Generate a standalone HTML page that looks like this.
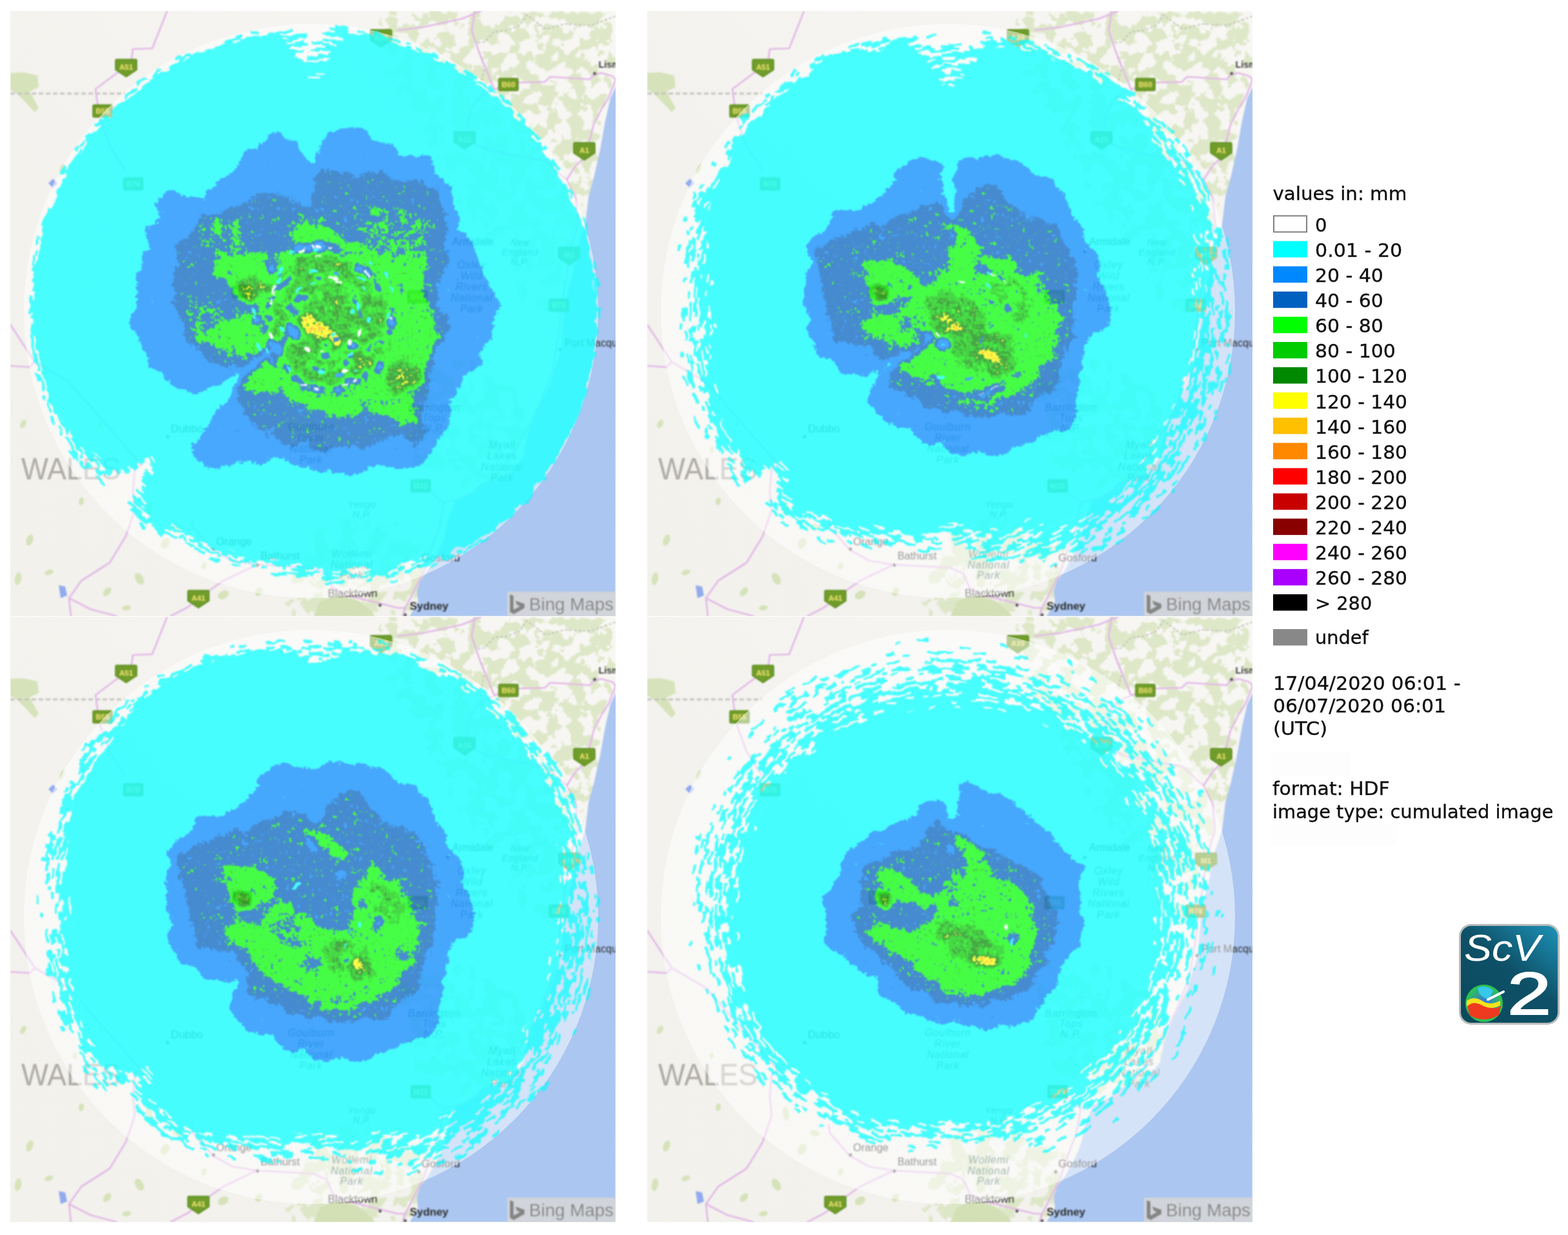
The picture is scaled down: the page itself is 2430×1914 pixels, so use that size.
<!DOCTYPE html>
<html lang="en"><head><meta charset="utf-8"><title>cumulated image</title>
<style>
html,body{margin:0;padding:0;background:#fff}
body{width:2430px;height:1914px;overflow:hidden;position:relative}
svg{display:block}
.lg{font-family:"DejaVu Sans","Liberation Sans",sans-serif;font-size:29px;fill:#111}
.mp{font-family:"Liberation Sans",sans-serif}
</style></head>
<body>
<svg width="2430" height="1914" viewBox="0 0 2430 1914">
<defs>
<filter id="bl" x="-5%" y="-5%" width="110%" height="110%"><feGaussianBlur stdDeviation="1.1"/></filter>
<filter id="bl2" x="-5%" y="-5%" width="110%" height="110%"><feGaussianBlur stdDeviation="1.15"/></filter>
<filter id="veg" filterUnits="userSpaceOnUse" x="0" y="0" width="938" height="938" color-interpolation-filters="sRGB"><feGaussianBlur in="SourceGraphic" stdDeviation="14" result="g"/><feTurbulence type="fractalNoise" baseFrequency="0.045" numOctaves="3" seed="8" result="t"/><feColorMatrix in="t" type="matrix" values="0 0 0 0 0  0 0 0 0 0  0 0 0 0 0  2.2 0 0 0 -0.85" result="m0"/><feComposite in="m0" in2="g" operator="arithmetic" k1="3.2" k2="0" k3="0" k4="0" result="m1"/><feComponentTransfer in="m1" result="m"><feFuncA type="discrete" tableValues="0 0 0 0 0 0 0 0.3 0.65 0.75"/></feComponentTransfer><feFlood flood-color="#d6e3ba"/><feComposite in2="m" operator="in"/><feGaussianBlur stdDeviation="1.2"/></filter>
<linearGradient id="lg0" x1="0" y1="1" x2="1" y2="0"><stop offset="0" stop-color="#f2f1ec"/><stop offset="0.45" stop-color="#f3f2ee"/><stop offset="1" stop-color="#f8f7f4"/></linearGradient>
<g id="base">
<rect width="938" height="938" fill="url(#lg0)"/>
<g filter="url(#veg)" fill="#000"><path d="M560,0 938,0 938,100 925,170 915,215 900,260 890,330 875,370 865,420 855,460 800,460 760,380 700,300 640,200 590,100Z"/><path d="M430,938 440,860 480,800 560,780 620,800 650,850 640,900 620,938Z"/><path d="M600,560 700,540 800,600 820,640 780,720 700,740 620,700Z"/></g>
<g filter="url(#bl)">
<path d="M0,96 20,95 42,100 44,118 30,125 44,150 38,157 22,140 10,128 0,122Z" fill="#d6e3ba"/><path d="M470,938 480,915 505,905 540,915 560,930 565,938Z" fill="#d3e0b6"/><g fill="#d6e3ba"><ellipse cx="30" cy="820" rx="5" ry="9" transform="rotate(20 30 820)"/><ellipse cx="60" cy="870" rx="4" ry="7" transform="rotate(70 60 870)"/><ellipse cx="110" cy="760" rx="4" ry="6" transform="rotate(10 110 760)"/><ellipse cx="150" cy="900" rx="5" ry="8" transform="rotate(40 150 900)"/><ellipse cx="200" cy="880" rx="6" ry="10" transform="rotate(150 200 880)"/><ellipse cx="215" cy="770" rx="5" ry="11" transform="rotate(170 215 770)"/><ellipse cx="240" cy="825" rx="6" ry="9" transform="rotate(30 240 825)"/><ellipse cx="330" cy="905" rx="6" ry="9" transform="rotate(60 330 905)"/><ellipse cx="300" cy="860" rx="4" ry="6" transform="rotate(20 300 860)"/><ellipse cx="20" cy="640" rx="4" ry="7" transform="rotate(30 20 640)"/><ellipse cx="80" cy="245" rx="3" ry="8" transform="rotate(20 80 245)"/><ellipse cx="12" cy="880" rx="5" ry="10" transform="rotate(10 12 880)"/><ellipse cx="180" cy="925" rx="4" ry="7" transform="rotate(80 180 925)"/><ellipse cx="260" cy="800" rx="5" ry="8" transform="rotate(100 260 800)"/><ellipse cx="385" cy="900" rx="5" ry="7" transform="rotate(30 385 900)"/><ellipse cx="100" cy="680" rx="3" ry="5" transform="rotate(0 100 680)"/><ellipse cx="140" cy="640" rx="3" ry="4" transform="rotate(0 140 640)"/></g>
<path d="M940,114 930,135 922,170 914,215 905,255 896,288 891,330 879,366 870,412 859,454 853,525 836,580 814,624 800,662 795,690 773,717 731,731 717,745 690,759 679,786 673,814 668,828 657,850 646,869 635,883 630,899 632,916 619,938 938,938Z" fill="#abc6f0"/>
<path d="M0,128 L179,128" stroke="#c4c4c0" stroke-width="3" stroke-dasharray="7 4" fill="none"/>
<path d="M938,8 900,22 860,20 830,28 800,6 790,22 770,30 750,32 735,48 722,50 728,70 735,88 730,110" stroke="#b9b9b4" stroke-width="1.6" stroke-dasharray="4 3" fill="none"/>
<g stroke="#e3b9e7" stroke-width="2.7" fill="none" stroke-linejoin="round">
<path d="M243,0 220,58 190,59 187,80 132,121 138,165 154,209 179,248"/><path d="M0,486 38,544 91,575 204,704"/><path d="M0,550 30,552 38,544"/><path d="M204,704 193,707 190,745 193,773 179,814 154,855 110,883 91,910 94,938"/><path d="M281,786 283,800 314,835 344,852 382,858 470,863 490,872 500,895 520,905"/><path d="M382,858 330,883 303,902 275,924 248,938"/><path d="M91,910 124,927 165,938"/><path d="M939,107 933,101 916,96 904,99 898,106 869,104 837,102 828,110 788,111 760,118 740,126 722,138 712,160 704,199"/><path d="M939,105 927,135 916,152 904,176 898,200 892,225 876,240 862,262 876,290 880,330 868,370 862,410 855,455 850,500 840,560 820,610 800,650"/><path d="M750,122 725,60 715,30 720,0"/><path d="M704,199 740,215 790,225 830,232 862,262"/><path d="M600,30 640,25 700,12 730,0"/><path d="M800,650 770,700 740,735 700,755 672,762 665,800 650,840 640,870 625,900 612,925 608,938"/><path d="M672,762 650,745 636,736"/><path d="M520,905 560,915 600,925 612,925"/>
</g>
<path d="M59,267 l7,-7 l7,7 l-7,7z M75,890 l10,2 l3,14 l-10,4z" fill="#93abee"/>
</g>
<g class="mp" filter="url(#bl2)">
<text x="17" y="726" font-size="49" fill="#aeaaa6" textLength="154" lengthAdjust="spacingAndGlyphs">WALES</text>
<text x="249" y="653" font-size="16.5" fill="#2e2e2e" font-weight="normal" textLength="49.6" lengthAdjust="spacingAndGlyphs">Dubbo</text>
<text x="319" y="828" font-size="16.5" fill="#2e2e2e" font-weight="normal" textLength="55" lengthAdjust="spacingAndGlyphs">Orange</text>
<text x="388" y="850" font-size="16.5" fill="#2e2e2e" font-weight="normal" textLength="60.5" lengthAdjust="spacingAndGlyphs">Bathurst</text>
<text x="492" y="908" font-size="16.5" fill="#2e2e2e" font-weight="normal" textLength="77" lengthAdjust="spacingAndGlyphs">Blacktown</text>
<text x="619" y="928" font-size="17" fill="#2c2c2c" font-weight="bold" textLength="60" lengthAdjust="spacingAndGlyphs">Sydney</text>
<text x="637" y="853" font-size="16.5" fill="#2e2e2e" font-weight="normal" textLength="60" lengthAdjust="spacingAndGlyphs">Gosford</text>
<text x="685" y="363" font-size="16.5" fill="#2e2e2e" font-weight="normal" textLength="63.4" lengthAdjust="spacingAndGlyphs">Armidale</text>
<text x="859" y="520" font-size="16" fill="#2e2e2e" font-weight="normal" textLength="108.5" lengthAdjust="spacingAndGlyphs">Port Macquarie</text>
<text x="911.5" y="88" font-size="15" fill="#3c3c3c" font-weight="bold" textLength="56" lengthAdjust="spacingAndGlyphs">Lismore</text>
<g fill="#466a60" font-style="italic" text-anchor="middle" letter-spacing="0.8">
<text x="715" y="399" font-size="16">Oxley</text><text x="715" y="416" font-size="16">Wild</text><text x="715" y="433" font-size="16">Rivers</text><text x="715" y="450" font-size="16">National</text><text x="715" y="467" font-size="16">Park</text>
<text x="790" y="364" font-size="14">New</text><text x="790" y="379" font-size="14">England</text><text x="790" y="394" font-size="14">N.P.</text>
<text x="657" y="620" font-size="16">Barrington</text><text x="657" y="636.2" font-size="16">Tops</text><text x="657" y="652.4" font-size="16">N.P.</text>
<text x="466" y="650" font-size="16">Goulburn</text><text x="466" y="667" font-size="16">River</text><text x="466" y="684" font-size="16">National</text><text x="466" y="701" font-size="16">Park</text>
<text x="762" y="678" font-size="16">Myall</text><text x="762" y="695" font-size="16">Lakes</text><text x="762" y="712" font-size="16">National</text><text x="762" y="729" font-size="16">Park</text>
<text x="529" y="847" font-size="16">Wollemi</text><text x="529" y="863.5" font-size="16">National</text><text x="529" y="880" font-size="16">Park</text>
<text x="545" y="770" font-size="14">Yengo</text><text x="545" y="785" font-size="14">N.P.</text>
</g>
<circle cx="244" cy="660" r="2.4" fill="#5a5a5a"/><circle cx="315" cy="834" r="2.4" fill="#5a5a5a"/><circle cx="383" cy="859" r="2.4" fill="#5a5a5a"/><circle cx="573" cy="921" r="2.4" fill="#5a5a5a"/><circle cx="633" cy="860" r="2.4" fill="#5a5a5a"/><circle cx="678" cy="373" r="2.4" fill="#5a5a5a"/><circle cx="852" cy="525" r="2.4" fill="#5a5a5a"/><circle cx="905.6" cy="97" r="2.4" fill="#5a5a5a"/><circle cx="612" cy="936" r="2.4" fill="#5a5a5a"/>
<g transform="translate(179.5,88)"><path d="M-14.5,-13 h29 a2,2 0 0 1 2,2 v14 l-16.5,11 l-16.5,-11 v-14 a2,2 0 0 1 2,-2z" fill="#6f9d2b" stroke="#5b8a1e" stroke-width="1.5"/><text x="0" y="3" font-size="11.5" font-weight="bold" fill="#e8e06a" text-anchor="middle">A51</text></g>
<g transform="translate(143,155)"><rect x="-15" y="-9.5" width="30" height="19" rx="2" fill="#6f9d2b" stroke="#5b8a1e" stroke-width="1.5"/><text x="0" y="4" font-size="11.5" font-weight="bold" fill="#e8e06a" text-anchor="middle">B55</text></g>
<g transform="translate(190.5,268)"><rect x="-15" y="-9.5" width="30" height="19" rx="2" fill="#6f9d2b" stroke="#5b8a1e" stroke-width="1.5"/><text x="0" y="4" font-size="11.5" font-weight="bold" fill="#e8e06a" text-anchor="middle">B76</text></g>
<g transform="translate(574.5,42)"><path d="M-14.5,-13 h29 a2,2 0 0 1 2,2 v14 l-16.5,11 l-16.5,-11 v-14 a2,2 0 0 1 2,-2z" fill="#6f9d2b" stroke="#5b8a1e" stroke-width="1.5"/><text x="0" y="3" font-size="11.5" font-weight="bold" fill="#e8e06a" text-anchor="middle">A39</text></g>
<g transform="translate(772,114)"><rect x="-15" y="-9.5" width="30" height="19" rx="2" fill="#6f9d2b" stroke="#5b8a1e" stroke-width="1.5"/><text x="0" y="4" font-size="11.5" font-weight="bold" fill="#e8e06a" text-anchor="middle">B60</text></g>
<g transform="translate(704,200)"><path d="M-14.5,-13 h29 a2,2 0 0 1 2,2 v14 l-16.5,11 l-16.5,-11 v-14 a2,2 0 0 1 2,-2z" fill="#6f9d2b" stroke="#5b8a1e" stroke-width="1.5"/><text x="0" y="3" font-size="11.5" font-weight="bold" fill="#e8e06a" text-anchor="middle">A15</text></g>
<g transform="translate(889.5,217)"><path d="M-14.5,-13 h29 a2,2 0 0 1 2,2 v14 l-16.5,11 l-16.5,-11 v-14 a2,2 0 0 1 2,-2z" fill="#6f9d2b" stroke="#5b8a1e" stroke-width="1.5"/><text x="0" y="3" font-size="11.5" font-weight="bold" fill="#e8e06a" text-anchor="middle">A1</text></g>
<g transform="translate(866,379)"><path d="M-14.5,-13 h29 a2,2 0 0 1 2,2 v14 l-16.5,11 l-16.5,-11 v-14 a2,2 0 0 1 2,-2z" fill="#6f9d2b" stroke="#5b8a1e" stroke-width="1.5"/><text x="0" y="3" font-size="11.5" font-weight="bold" fill="#e8e06a" text-anchor="middle">M1</text></g>
<g transform="translate(631,443)"><rect x="-15" y="-9.5" width="30" height="19" rx="2" fill="#6f9d2b" stroke="#5b8a1e" stroke-width="1.5"/><text x="0" y="4" font-size="11.5" font-weight="bold" fill="#e8e06a" text-anchor="middle">B56</text></g>
<g transform="translate(359,435)"><rect x="-15" y="-9.5" width="30" height="19" rx="2" fill="#6f9d2b" stroke="#5b8a1e" stroke-width="1.5"/><text x="0" y="4" font-size="11.5" font-weight="bold" fill="#e8e06a" text-anchor="middle">B84</text></g>
<g transform="translate(850,456)"><rect x="-15" y="-9.5" width="30" height="19" rx="2" fill="#6f9d2b" stroke="#5b8a1e" stroke-width="1.5"/><text x="0" y="4" font-size="11.5" font-weight="bold" fill="#e8e06a" text-anchor="middle">B78</text></g>
<g transform="translate(636,736)"><rect x="-15" y="-9.5" width="30" height="19" rx="2" fill="#6f9d2b" stroke="#5b8a1e" stroke-width="1.5"/><text x="0" y="4" font-size="11.5" font-weight="bold" fill="#e8e06a" text-anchor="middle">M15</text></g>
<g transform="translate(291.5,911)"><path d="M-14.5,-13 h29 a2,2 0 0 1 2,2 v14 l-16.5,11 l-16.5,-11 v-14 a2,2 0 0 1 2,-2z" fill="#6f9d2b" stroke="#5b8a1e" stroke-width="1.5"/><text x="0" y="3" font-size="11.5" font-weight="bold" fill="#e8e06a" text-anchor="middle">A41</text></g>
</g>
</g>
<g id="bing" filter="url(#bl2)">
<rect x="770" y="900" width="170" height="40" fill="#d6d6d6" fill-opacity="0.88"/>
<path d="M774,904 l6,2.2 v21.5 l9.5,-5.2 l-4.5,-2.2 l-2.6,-6.6 l14.6,5.1 v6.6 l-16.8,9.6 l-6.2,-3.6z" fill="#858585"/>
<text class="mp" x="804" y="929" font-size="27" fill="#858585" textLength="131" lengthAdjust="spacingAndGlyphs">Bing Maps</text>
</g>
<filter id="rag" filterUnits="userSpaceOnUse" x="0" y="0" width="938" height="938" color-interpolation-filters="sRGB">
<feTurbulence type="fractalNoise" baseFrequency="0.07" numOctaves="2" seed="3" result="n"/>
<feDisplacementMap in="SourceGraphic" in2="n" scale="9" xChannelSelector="R" yChannelSelector="G"/>
<feGaussianBlur stdDeviation="0.9"/>
</filter>
<filter id="lev" filterUnits="userSpaceOnUse" x="140" y="130" width="670" height="640" color-interpolation-filters="sRGB">
<feTurbulence type="fractalNoise" baseFrequency="0.032" numOctaves="3" seed="5" result="d0"/>
<feDisplacementMap in="SourceGraphic" in2="d0" scale="24" xChannelSelector="R" yChannelSelector="G" result="d"/>
<feGaussianBlur in="d" stdDeviation="4" result="b"/>
<feTurbulence type="fractalNoise" baseFrequency="0.07" numOctaves="4" seed="11" result="n0"/>
<feTurbulence type="fractalNoise" baseFrequency="0.22" numOctaves="2" seed="23" result="n1"/>
<feComposite in="n0" in2="n1" operator="arithmetic" k1="0" k2="0.5" k3="0.5" k4="0" result="n01"/>
<feColorMatrix in="n01" type="matrix" values="1 0 0 0 0  1 0 0 0 0  1 0 0 0 0  0 0 0 0 1" result="n"/>
<feComposite in="b" in2="n" operator="arithmetic" k1="0" k2="1" k3="0.36" k4="-0.18" result="v"/>
<feComponentTransfer in="v" result="c"><feFuncR type="discrete" tableValues="0 0 0 0 0 0 0 0 0 0 0 0 0 0 0 0 0 0 0 0 0 0 0 0 0 0 0 0 0 0 0 0 0 0 0 0 1 1 1 1 1 1 1 1 1 1 1 1"/><feFuncG type="discrete" tableValues="0 0 0 0 0 0 0 0 0.53 0.53 0.53 0.53 0.53 0.53 0.53 0.53 0.53 0.53 0.38 0.38 0.38 0.38 0.38 0.38 1 1 1 1 1 1 0.8 0.8 0.8 0.53 0.53 0.53 1 1 1 0.75 0.75 0.75 0.53 0.53 0.53 0 0 0"/><feFuncB type="discrete" tableValues="0 0 0 0 0 0 0 0 1 1 1 1 1 1 1 1 1 1 0.75 0.75 0.75 0.75 0.75 0.75 0 0 0 0 0 0 0 0 0 0 0 0 0 0 0 0 0 0 0 0 0 0 0 0"/></feComponentTransfer>
<feColorMatrix in="v" type="matrix" values="0 0 0 0 0  0 0 0 0 0  0 0 0 0 0  1 0 0 0 0" result="a0"/>
<feComponentTransfer in="a0" result="a"><feFuncA type="discrete" tableValues="0 0 0 0 0 0 0 0 1 1 1 1 1 1 1 1 1 1 1 1 1 1 1 1 1 1 1 1 1 1 1 1 1 1 1 1 1 1 1 1 1 1 1 1 1 1 1 1"/></feComponentTransfer>
<feComposite in="c" in2="a" operator="in"/>
<feGaussianBlur stdDeviation="0.9"/>
</filter>
<filter id="lgb" x="-2%" y="-2%" width="104%" height="104%"><feGaussianBlur stdDeviation="0.6"/></filter>
</defs>
<rect width="2430" height="1914" fill="#fff"/>
<svg x="16" y="17" width="938" height="938" viewBox="0 0 938 938" overflow="hidden">
<use href="#base"/>
<circle cx="466" cy="465" r="445" fill="#fff" fill-opacity="0.5"/>
<g opacity="0.72">
<g fill="#0ff" filter="url(#rag)">
<path d="M906,466 907,481 907,497 906,512 904,527 901,542 899,557 895,572 890,586 887,601 880,615 878,631 873,645 864,658 857,672 851,686 841,698 833,711 824,723 815,735 806,748 796,760 783,769 774,781 762,790 751,801 739,810 725,817 713,827 699,832 684,836 669,841 655,844 639,846 624,848 611,854 598,859 582,858 568,860 554,860 540,861 525,857 511,859 498,862 484,861 470,860 456,859 443,856 429,853 416,852 402,849 389,846 375,845 363,840 349,837 336,834 323,830 310,826 298,819 286,812 273,808 261,801 250,792 239,784 228,775 218,766 207,758 214,731 230,698 221,690 185,705 156,711 147,701 138,690 126,681 111,673 101,662 92,650 84,638 78,624 72,611 66,597 62,583 58,569 53,555 49,540 44,526 40,511 40,496 38,481 35,466 38,451 37,436 38,421 40,406 42,391 45,376 47,361 52,346 54,331 58,316 66,303 71,289 77,275 85,261 92,248 98,234 108,222 117,210 123,195 135,185 144,173 155,162 166,151 177,140 189,131 200,120 213,112 225,103 238,95 251,86 263,77 278,72 291,64 306,61 321,57 335,51 351,49 365,43 380,42 395,40 410,38 426,48 442,73 457,100 470,114 483,103 497,76 514,49 530,38 545,39 560,42 575,44 590,49 604,55 618,58 632,65 646,70 659,78 674,82 686,93 700,98 712,107 725,115 736,126 749,133 759,145 772,154 782,164 792,176 801,188 811,199 821,211 829,224 837,237 847,248 853,262 859,276 867,289 873,303 877,318 884,331 889,346 891,361 896,376 901,390 903,405 903,420 905,436 907,451Z"/>
<g transform="translate(470,466)" fill="none" stroke="#0ff" stroke-width="4.1">
<circle r="320" stroke-dasharray="488 13 170 12 245 11 176 16 880 0"/>
<circle r="323.5" stroke-dasharray="95 9 512 18 1398 0"/>
<circle r="327" stroke-dasharray="1344 18 28 18 148 7 62 12 418 0"/>
<circle r="330.5" stroke-dasharray="13 18 1096 5 944 0"/>
<circle r="334" stroke-dasharray="61 15 339 9 603 17 1055 0"/>
<circle r="337.5" stroke-dasharray="161 24 620 16 223 13 10 17 24 13 426 16 59 16 232 11 240 0"/>
<circle r="341" stroke-dasharray="399 11 608 8 281 15 775 20 22 4"/>
<circle r="344.5" stroke-dasharray="824 20 60 13 427 16 310 15 170 6 147 18 137 0"/>
<circle r="348" stroke-dasharray="192 9 626 17 278 15 980 7 62 0"/>
<circle r="351.5" stroke-dasharray="232 11 40 27 516 21 459 14 888 0"/>
<circle r="355" stroke-dasharray="171 12 142 9 231 19 192 16 13 15 15 22 761 8 262 18 325 0"/>
<circle r="358.5" stroke-dasharray="135 7 97 14 602 22 360 21 292 7 36 5 15 15 31 15 237 14 326 0"/>
<circle r="362" stroke-dasharray="82 15 763 20 644 17 152 28 553 0"/>
<circle r="365.5" stroke-dasharray="126 5 153 20 561 18 422 7 44 6 541 13 382 0"/>
<circle r="369" stroke-dasharray="8 8 468 14 310 15 18 11 22 18 373 18 460 12 518 13 31 0"/>
<circle r="372.5" stroke-dasharray="65 10 806 25 198 8 1229 0"/>
<circle r="376" stroke-dasharray="569 16 293 42 615 14 499 8 57 19 230 0"/>
<circle r="379.5" stroke-dasharray="721 9 32 17 112 28 165 7 35 16 10 31 117 19 731 6 192 7 129 0"/>
<circle r="383" stroke-dasharray="895 35 43 11 37 19 842 17 145 15 213 14 120 0"/>
<circle r="386.5" stroke-dasharray="10 19 376 15 56 12 407 53 225 6 282 18 209 10 732 0"/>
<circle r="390" stroke-dasharray="628 12 28 12 55 18 167 34 14 19 206 20 22 8 164 17 399 35 594 0"/>
<circle r="393.5" stroke-dasharray="637 16 248 71 482 8 368 13 27 9 594 0"/>
<circle r="397" stroke-dasharray="221 7 13 19 359 6 26 15 21 25 20 10 51 13 10 11 13 17 66 59 297 10 270 24 78 17 101 8 50 39 462 19 135 0"/>
<circle r="400.5" stroke-dasharray="360 17 169 20 48 28 22 7 6 50 17 19 12 33 20 18 67 7 20 48 26 8 517 19 299 52 222 15 305 10 56 0"/>
<circle r="404" stroke-dasharray="161 18 373 30 8 16 12 8 31 49 10 9 6 17 20 18 35 18 11 19 72 55 38 11 25 19 799 9 14 19 246 7 71 12 273 0"/>
<circle r="407.5" stroke-dasharray="248 9 292 36 41 14 49 99 6 38 14 8 6 24 30 94 7 27 481 14 347 40 336 11 289 0"/>
<circle r="411" stroke-dasharray="29 17 80 9 351 13 69 19 19 8 14 29 15 17 24 48 13 45 19 29 57 11 29 55 7 7 52 19 160 8 631 52 84 15 230 16 162 11 109 0"/>
<circle r="414.5" stroke-dasharray="493 20 50 19 11 18 28 162 14 81 25 6 32 70 12 14 568 15 32 17 257 21 11 13 200 9 408 0"/>
<circle r="418" stroke-dasharray="473 14 7 32 58 319 11 21 34 122 46 12 61 8 706 17 13 15 14 14 355 14 156 19 86 0"/>
<circle r="421.5" stroke-dasharray="13 16 477 11 13 15 27 43 28 391 18 14 11 14 31 11 14 15 7 39 746 46 645 0"/>
<circle r="425" stroke-dasharray="223 10 200 19 40 43 19 21 11 361 13 117 5 13 7 36 816 8 28 59 79 9 485 8 42 0"/>
<circle r="428.5" stroke-dasharray="468 14 47 559 12 14 30 41 255 14 193 10 94 10 249 29 312 9 124 18 188 0"/>
<circle r="432" stroke-dasharray="27 9 189 11 192 27 18 638 19 40 6 38 5 78 90 16 396 17 168 64 58 13 150 8 269 20 150 0"/>
<circle r="435.5" stroke-dasharray="14 8 32 9 214 9 34 12 62 48 9 6 16 12 12 56 11 564 15 26 10 29 17 17 27 7 26 28 19 7 6 6 18 16 47 29 31 10 17 18 63 19 53 10 84 11 91 10 31 12 29 14 38 66 19 26 40 28 10 10 26 18 17 22 20 35 38 17 29 14 14 15 16 31 14 26 97 11 7 18 35 0"/>
<circle r="439" stroke-dasharray="0 18 18 26 27 29 53 18 12 39 9 18 19 18 26 11 32 8 8 20 37 752 14 27 7 25 11 17 45 32 29 36 12 14 8 37 29 63 44 13 19 15 17 8 30 47 17 19 12 5 6 15 15 43 25 139 26 19 10 13 43 26 8 18 15 8 19 15 20 6 28 64 7 8 26 11 8 17 22 32 13 52 12 59 60 0"/>
<circle r="442.5" stroke-dasharray="13 259 7 31 15 78 14 1046 15 17 12 105 9 42 11 5 7 16 15 47 25 27 19 33 22 73 10 14 10 122 19 39 9 45 9 94 20 23 15 7 24 16 16 176 19 50 13 12 16 31 6 0"/>
<circle r="446" stroke-dasharray="0 1623 15 28 11 129 19 52 11 913"/>
</g>
</g>
<g filter="url(#lev)">
<rect x="-60" y="-60" width="1058" height="1058" fill="#000"/>
<path d="M469,247 470,235 472,217 480,199 502,184 519,176 545,178 560,197 579,195 597,206 601,229 627,225 650,217 654,231 657,247 680,262 685,277 687,292 695,315 691,337 699,349 710,360 720,371 729,382 733,397 736,412 744,426 751,439 759,457 747,480 747,506 732,525 729,543 710,562 702,575 695,588 687,611 680,624 672,637 669,652 665,667 650,690 635,705 619,707 601,708 583,710 564,712 545,717 526,721 508,720 489,716 469,712 450,708 431,702 412,697 393,698 375,701 352,705 337,711 319,712 302,704 285,690 277,675 281,664 289,652 300,640 312,627 322,615 333,601 346,585 358,570 367,558 371,551 365,553 350,566 334,577 320,584 306,589 292,592 274,593 259,590 246,584 234,573 225,559 216,543 206,527 197,510 191,491 187,472 195,446 191,420 196,405 202,390 210,364 202,341 225,326 229,300 240,277 266,281 281,284 296,285 319,274 337,255 352,232 371,214 394,202 409,184 427,199 446,206 461,221Z" fill="#454545"/>
<path d="M480,240 506,247 523,252 540,255 555,251 570,247 585,255 600,262 615,261 630,259 643,264 656,274 666,286 675,300 680,315 682,330 675,352 678,375 673,393 667,412 664,428 663,442 668,456 675,469 682,487 667,510 665,524 663,540 658,553 652,566 650,583 648,600 637,622 645,648 639,664 630,675 616,666 600,656 581,664 562,675 543,675 525,675 506,679 487,682 469,679 450,675 431,672 412,667 396,659 382,648 370,633 360,618 352,600 360,573 375,555 363,552 345,551 329,550 315,547 292,532 282,520 274,506 267,493 262,480 258,465 255,450 252,431 251,412 252,393 255,375 263,363 274,352 282,339 292,326 307,316 322,307 337,303 352,300 367,296 382,292 397,286 412,281 428,285 442,292 461,307 467,294 472,274 475,254Z" fill="#707070"/>
<path d="M454,319 472,330 487,326 498,334 510,345 525,360 539,364 555,367 573,375 592,360 615,352 637,360 645,374 648,390 637,412 640,427 645,442 648,458 652,472 663,495 652,517 650,533 648,547 637,562 611,570 614,583 622,600 628,616 630,630 607,645 596,635 585,622 570,616 555,615 540,622 525,630 510,630 495,626 478,619 461,611 448,605 435,600 420,595 405,592 388,591 375,588 367,573 375,555 390,540 375,525 352,532 337,530 322,525 300,510 289,499 281,487 277,465 300,472 314,477 330,480 345,477 360,472 382,465 394,442 375,450 352,442 337,420 315,405 311,382 337,375 353,372 367,371 390,382 412,390 420,375 435,352 446,330Z" fill="#8f8f8f"/>
<path d="M543,315 553,310 568,307 585,306 600,307 618,312 636,320 648,330 653,345 651,362 645,375 633,381 616,383 600,382 583,378 567,370 555,360 546,345 541,328Z" fill="#7e7e7e"/>
<path d="M289,330 299,324 315,320 330,319 351,321 367,330 371,347 364,364 351,368 334,368 319,367 303,364 292,356Z" fill="#7d7d7d"/>
<path d="M274,450 289,444 307,446 320,457 326,472 322,488 311,498 296,497 281,487 273,468Z" fill="#7c7c7c"/>
<path d="M412,412 423,402 436,391 450,382 469,376 487,375 506,380 525,390 538,396 551,403 562,412 571,423 579,436 585,450 589,464 591,479 592,495 592,510 589,526 585,540 577,553 567,564 555,573 541,579 525,583 510,585 494,585 479,584 465,581 451,574 438,565 427,555 418,543 411,531 405,517 401,503 398,487 397,472 398,452 401,435Z" fill="#acacac"/>
<path d="M446,472 469,469 487,483 498,494 506,506 502,525 483,521 465,502 450,487Z" fill="#c9c9c9"/>
<path d="M540,543 558,540 573,551 566,562 547,558Z" fill="#cacaca"/>
<path d="M386,422 401,424 403,431 388,431Z" fill="#cfcfcf"/>
<path d="M480,498 498,506 510,525 495,528 482,515Z" fill="#cecece"/>
<path d="M352,420 367,413 382,412 394,435 375,450 354,442Z" fill="#bcbcbc"/>
<path d="M581,555 598,544 618,540 631,548 637,562 629,579 615,592 598,592 585,585 579,570Z" fill="#b7b7b7"/>
<path d="M446,477 375,548 369,557 379,560 390,547 448,482Z" fill="#525252"/>
<ellipse cx="538" cy="450" rx="3" ry="11" transform="rotate(337 538 450)" fill="#151515"/>
<ellipse cx="489" cy="538" rx="6" ry="7" transform="rotate(87 489 538)" fill="#242424"/>
<ellipse cx="407" cy="447" rx="4" ry="10" transform="rotate(197 407 447)" fill="#454545"/>
<ellipse cx="550" cy="524" rx="5" ry="6" transform="rotate(39 550 524)" fill="#525252"/>
<ellipse cx="433" cy="462" rx="6" ry="7" transform="rotate(189 433 462)" fill="#525252"/>
<ellipse cx="487" cy="515" rx="5" ry="8" transform="rotate(89 487 515)" fill="#454545"/>
<ellipse cx="404" cy="541" rx="3" ry="9" transform="rotate(139 404 541)" fill="#525252"/>
<ellipse cx="447" cy="370" rx="5" ry="9" transform="rotate(248 447 370)" fill="#151515"/>
<ellipse cx="380" cy="477" rx="3" ry="6" transform="rotate(176 380 477)" fill="#151515"/>
<ellipse cx="438" cy="497" rx="5" ry="8" transform="rotate(152 438 497)" fill="#151515"/>
<ellipse cx="446" cy="448" rx="3" ry="10" transform="rotate(210 446 448)" fill="#323232"/>
<ellipse cx="568" cy="516" rx="4" ry="9" transform="rotate(28 568 516)" fill="#151515"/>
<ellipse cx="568" cy="546" rx="4" ry="11" transform="rotate(42 568 546)" fill="#5f5f5f"/>
<ellipse cx="406" cy="400" rx="5" ry="6" transform="rotate(221 406 400)" fill="#151515"/>
<ellipse cx="493" cy="537" rx="5" ry="7" transform="rotate(84 493 537)" fill="#5f5f5f"/>
<ellipse cx="422" cy="445" rx="3" ry="7" transform="rotate(202 422 445)" fill="#5f5f5f"/>
<path d="M441.6,376.0 A112.4,112.4 0 0 1 512.5,367.9" fill="none" stroke="#151515" stroke-width="11.2412" stroke-dasharray="5 5 3 4 11 9 8 9"/>
<path d="M535.9,396.7 A93.7,93.7 0 0 1 577.1,445.8" fill="none" stroke="#242424" stroke-width="9.74239" stroke-dasharray="8 4 12 6 8 5 12 9"/>
<path d="M586.9,460.6 A99.3,99.3 0 0 1 579.1,519.8" fill="none" stroke="#242424" stroke-width="8.99297" stroke-dasharray="6 8 13 8 9 11 9 6"/>
<path d="M570.9,546.5 A106.8,106.8 0 0 1 435.7,570.4" fill="none" stroke="#1f1f1f" stroke-width="8.99297" stroke-dasharray="10 3 3 4 11 6 11 4"/>
<path d="M435.4,554.6 A93.7,93.7 0 0 1 395.8,486.0" fill="none" stroke="#2d2d2d" stroke-width="8.24356" stroke-dasharray="13 6 3 8 14 6 7 12"/>
<path d="M401.1,477.9 A88.1,88.1 0 0 1 438.6,405.7" fill="none" stroke="#323232" stroke-width="9.74239" stroke-dasharray="7 6 7 10 6 11 11 3"/>
<path d="M478.0,415.1 A63.7,63.7 0 0 1 544.3,446.0" fill="none" stroke="#323232" stroke-width="8.24356" stroke-dasharray="7 9 10 14 5 6 9 3"/>
<path d="M541.9,497.1 A56.2,56.2 0 0 1 498.9,533.2" fill="none" stroke="#323232" stroke-width="7.49415" stroke-dasharray="3 14 14 9 14 7 14 9"/>
<path d="M450.2,500.4 A45.0,45.0 0 0 1 481.3,433.6" fill="none" stroke="#3c3c3c" stroke-width="7.49415" stroke-dasharray="14 13 13 10 14 13 8 3"/>
<path d="M527.5,544.4 A76.8,76.8 0 0 1 462.8,550.1" fill="none" stroke="#2d2d2d" stroke-width="6.74473" stroke-dasharray="14 10 3 14 8 11 14 10"/>
</g>
<g filter="url(#rag)"><ellipse cx="509" cy="565" rx="3.0" ry="7.1" transform="rotate(76 509 565)" fill="#0088ff"/><ellipse cx="421" cy="495" rx="2.2" ry="4.0" transform="rotate(160 421 495)" fill="#0ff"/><ellipse cx="543" cy="415" rx="1.6" ry="6.2" transform="rotate(314 543 415)" fill="#0ff"/><ellipse cx="582" cy="409" rx="2.9" ry="6.3" transform="rotate(326 582 409)" fill="#0ff"/><ellipse cx="432" cy="554" rx="1.8" ry="5.4" transform="rotate(123 432 554)" fill="#0ff"/><ellipse cx="528" cy="536" rx="2.8" ry="3.3" transform="rotate(56 528 536)" fill="#0060c0"/><ellipse cx="417" cy="403" rx="2.1" ry="7.9" transform="rotate(224 417 403)" fill="#0ff"/><ellipse cx="477" cy="378" rx="1.6" ry="5.2" transform="rotate(264 477 378)" fill="#fff"/><ellipse cx="468" cy="423" rx="1.7" ry="6.1" transform="rotate(249 468 423)" fill="#0ff"/><ellipse cx="547" cy="430" rx="1.7" ry="5.1" transform="rotate(325 547 430)" fill="#0ff"/><ellipse cx="417" cy="418" rx="2.8" ry="6.5" transform="rotate(217 417 418)" fill="#0ff"/><ellipse cx="530" cy="467" rx="3.2" ry="3.6" transform="rotate(354 530 467)" fill="#0ff"/><ellipse cx="528" cy="533" rx="2.3" ry="6.0" transform="rotate(56 528 533)" fill="#0ff"/><ellipse cx="409" cy="433" rx="3.1" ry="7.3" transform="rotate(206 409 433)" fill="#fff"/><ellipse cx="502" cy="502" rx="3.0" ry="4.1" transform="rotate(62 502 502)" fill="#0ff"/><ellipse cx="505" cy="407" rx="3.0" ry="6.8" transform="rotate(286 505 407)" fill="#0088ff"/><ellipse cx="467" cy="574" rx="1.6" ry="3.2" transform="rotate(100 467 574)" fill="#0088ff"/><ellipse cx="474" cy="555" rx="2.8" ry="5.8" transform="rotate(98 474 555)" fill="#0060c0"/><ellipse cx="483" cy="527" rx="1.8" ry="3.0" transform="rotate(93 483 527)" fill="#fff"/><ellipse cx="376" cy="475" rx="2.9" ry="3.7" transform="rotate(178 376 475)" fill="#0ff"/><ellipse cx="518" cy="558" rx="3.2" ry="5.3" transform="rotate(70 518 558)" fill="#fff"/><ellipse cx="378" cy="465" rx="2.1" ry="6.3" transform="rotate(183 378 465)" fill="#0ff"/><ellipse cx="446" cy="447" rx="2.9" ry="4.7" transform="rotate(210 446 447)" fill="#0060c0"/><ellipse cx="504" cy="414" rx="2.7" ry="3.8" transform="rotate(286 504 414)" fill="#fff"/><ellipse cx="509" cy="420" rx="2.2" ry="6.0" transform="rotate(293 509 420)" fill="#fff"/><ellipse cx="460" cy="524" rx="3.0" ry="5.6" transform="rotate(116 460 524)" fill="#fff"/><ellipse cx="404" cy="503" rx="2.8" ry="6.3" transform="rotate(159 404 503)" fill="#fff"/><ellipse cx="555" cy="479" rx="3.2" ry="5.1" transform="rotate(6 555 479)" fill="#0ff"/><ellipse cx="436" cy="375" rx="1.7" ry="6.3" transform="rotate(242 436 375)" fill="#0ff"/><ellipse cx="413" cy="431" rx="1.5" ry="6.6" transform="rotate(209 413 431)" fill="#0060c0"/><ellipse cx="482" cy="560" rx="3.0" ry="5.3" transform="rotate(92 482 560)" fill="#0ff"/><ellipse cx="385" cy="520" rx="2.0" ry="7.5" transform="rotate(154 385 520)" fill="#0ff"/><ellipse cx="559" cy="391" rx="1.9" ry="4.8" transform="rotate(312 559 391)" fill="#0ff"/><ellipse cx="535" cy="559" rx="1.9" ry="3.1" transform="rotate(60 535 559)" fill="#0ff"/><ellipse cx="505" cy="511" rx="3.2" ry="4.9" transform="rotate(64 505 511)" fill="#0060c0"/><ellipse cx="541" cy="498" rx="3.1" ry="8.0" transform="rotate(25 541 498)" fill="#fff"/><ellipse cx="527" cy="513" rx="1.9" ry="4.1" transform="rotate(45 527 513)" fill="#fff"/><ellipse cx="418" cy="409" rx="1.8" ry="3.7" transform="rotate(222 418 409)" fill="#0088ff"/><ellipse cx="474" cy="370" rx="2.2" ry="6.3" transform="rotate(263 474 370)" fill="#0ff"/><ellipse cx="470" cy="404" rx="2.9" ry="6.3" transform="rotate(256 470 404)" fill="#0ff"/><ellipse cx="591" cy="431" rx="2.4" ry="4.6" transform="rotate(338 591 431)" fill="#0ff"/><ellipse cx="543" cy="470" rx="3.2" ry="7.8" transform="rotate(358 543 470)" fill="#0060c0"/><ellipse cx="448" cy="433" rx="2.5" ry="6.1" transform="rotate(225 448 433)" fill="#0ff"/><ellipse cx="397" cy="527" rx="3.0" ry="6.1" transform="rotate(148 397 527)" fill="#0ff"/><ellipse cx="586" cy="472" rx="2.1" ry="4.9" transform="rotate(0 586 472)" fill="#0ff"/><ellipse cx="539" cy="457" rx="3.2" ry="7.8" transform="rotate(344 539 457)" fill="#0ff"/></g>
<path d="M446.7,372.9 A113.2,113.2 0 0 1 485.2,364.8" fill="none" stroke="#fff" stroke-width="4.87119" stroke-dasharray="10 11 4 3 8 4 5 9" filter="url(#rag)"/>
<path d="M493.0,367.0 A110.9,110.9 0 0 1 508.4,368.6" fill="none" stroke="#fff" stroke-width="3.37237" stroke-dasharray="6 9 6 10 12 3 14 9" filter="url(#rag)"/>
<path d="M546.8,404.1 A93.7,93.7 0 0 1 560.9,417.7" fill="none" stroke="#fff" stroke-width="2.99766" stroke-dasharray="14 11 8 4 8 6 6 10" filter="url(#rag)"/>
<path d="M589.5,474.4 A100.4,100.4 0 0 1 588.6,491.8" fill="none" stroke="#fff" stroke-width="2.62295" stroke-dasharray="4 14 14 3 13 11 8 14" filter="url(#rag)"/>
<path d="M538.9,571.5 A106.0,106.0 0 0 1 511.2,581.6" fill="none" stroke="#fff" stroke-width="2.62295" stroke-dasharray="6 10 10 8 3 6 14 9" filter="url(#rag)"/>
<path d="M479.7,585.4 A107.9,107.9 0 0 1 448.7,577.9" fill="none" stroke="#fff" stroke-width="2.24824" stroke-dasharray="9 11 13 8 12 10 14 12" filter="url(#rag)"/>
<path d="M404.1,455.1 A88.1,88.1 0 0 1 414.4,431.2" fill="none" stroke="#fff" stroke-width="2.62295" stroke-dasharray="10 6 6 6 8 3 5 5" filter="url(#rag)"/>
<path d="M494.7,413.7 A64.4,64.4 0 0 1 515.3,419.0" fill="none" stroke="#fff" stroke-width="2.24824" stroke-dasharray="11 10 13 12 10 5 9 3" filter="url(#rag)"/>
</g>
<use href="#bing"/>
</svg>
<svg x="1003" y="17" width="938" height="938" viewBox="0 0 938 938" overflow="hidden">
<use href="#base"/>
<circle cx="466" cy="465" r="445" fill="#fff" fill-opacity="0.5"/>
<g opacity="0.72">
<g fill="#0ff" filter="url(#rag)">
<path d="M839,466 837,479 840,492 838,505 834,517 833,530 828,542 825,555 822,567 820,580 814,591 812,604 804,615 800,627 793,638 790,651 782,661 775,672 768,683 762,694 753,704 745,713 737,724 727,732 717,740 709,750 698,758 687,765 676,772 664,777 653,783 642,789 628,791 615,792 600,788 587,788 575,788 562,788 551,789 540,794 527,792 516,794 504,793 493,792 481,792 470,791 459,792 447,796 435,798 423,799 411,802 399,802 387,801 374,799 363,796 349,797 336,797 323,796 311,792 298,789 286,784 275,779 262,775 250,769 238,763 229,753 217,747 218,727 227,700 219,692 192,700 170,700 159,692 148,683 137,674 131,662 123,651 120,637 113,625 110,612 109,597 109,583 106,570 105,557 106,543 108,530 107,517 106,504 109,491 106,479 109,466 109,453 108,441 103,427 102,414 102,401 101,387 96,373 94,358 96,345 94,329 94,314 98,300 101,286 106,272 114,261 121,248 127,235 135,223 143,211 152,199 158,185 169,175 177,162 186,150 197,141 209,132 219,121 231,112 244,104 256,96 269,88 283,82 297,77 311,71 325,68 340,65 355,63 369,60 383,58 398,57 413,60 429,78 444,98 458,116 470,125 482,117 496,99 511,78 527,62 542,57 557,56 571,60 585,64 600,67 613,73 628,76 642,80 655,86 668,94 682,99 694,107 705,118 717,126 728,136 738,146 749,156 757,168 768,178 777,189 783,203 793,213 800,226 808,238 816,250 824,262 830,275 834,289 839,302 840,316 844,330 844,344 844,359 844,373 843,387 844,400 840,414 840,427 839,440 838,453Z"/>
<g transform="translate(470,466)" fill="none" stroke="#0ff" stroke-width="4.1">
<circle r="320" stroke-dasharray="445 14 91 7 42 9 589 19 581 8 206 0"/>
<circle r="323.5" stroke-dasharray="463 18 732 11 105 16 71 13 320 20 180 19 63 0"/>
<circle r="327" stroke-dasharray="503 15 23 20 313 12 1169 0"/>
<circle r="330.5" stroke-dasharray="82 17 36 8 121 18 61 11 144 16 307 10 1127 17 102 0"/>
<circle r="334" stroke-dasharray="517 25 116 18 1421 0"/>
<circle r="337.5" stroke-dasharray="1742 7 372 0"/>
<circle r="341" stroke-dasharray="0 10 306 13 173 14 1376 12 83 13 16 6 120 0"/>
<circle r="344.5" stroke-dasharray="413 11 44 12 12 18 31 34 348 16 780 18 429 0"/>
<circle r="348" stroke-dasharray="508 11 11 60 539 13 772 15 258 0"/>
<circle r="351.5" stroke-dasharray="386 6 94 12 14 19 17 24 7 14 36 13 13 18 160 16 757 9 26 6 6 7 200 14 91 18 10 16 197 0"/>
<circle r="355" stroke-dasharray="443 14 34 32 10 52 31 38 498 14 266 17 161 15 292 19 16 8 271 0"/>
<circle r="358.5" stroke-dasharray="330 11 73 9 25 39 21 12 36 20 18 11 14 19 171 8 35 18 392 12 304 20 78 19 196 10 150 10 191 0"/>
<circle r="362" stroke-dasharray="436 12 73 15 6 104 16 19 14 19 61 19 80 7 335 11 462 34 552 0"/>
<circle r="365.5" stroke-dasharray="182 14 254 40 37 15 6 80 35 37 153 10 258 8 759 18 391 0"/>
<circle r="369" stroke-dasharray="450 15 9 42 13 10 18 38 19 51 18 18 22 5 70 18 62 20 102 13 187 9 39 7 133 17 163 19 51 14 75 11 15 6 207 12 336 5"/>
<circle r="372.5" stroke-dasharray="209 14 214 19 16 11 7 15 23 88 19 41 15 11 6 19 12 13 25 18 82 27 229 17 8 12 41 8 143 10 367 18 581 0"/>
<circle r="376" stroke-dasharray="100 9 37 11 15 12 19 14 23 17 145 11 52 14 23 12 31 158 12 16 26 17 15 15 86 33 124 16 58 7 43 18 125 11 123 7 265 6 39 22 538 9 28 0"/>
<circle r="379.5" stroke-dasharray="27 17 27 14 15 20 296 19 40 17 23 240 27 7 15 27 51 42 193 7 92 10 10 12 511 11 286 16 55 11 187 6 30 14 6 2"/>
<circle r="383" stroke-dasharray="61 16 17 44 34 21 31 13 51 17 19 11 31 28 73 17 18 44 23 197 15 17 72 17 13 34 24 19 95 18 47 10 21 20 431 20 141 14 12 11 488 15 17 7 16 10 26 6 4 0"/>
<circle r="386.5" stroke-dasharray="11 50 63 19 28 10 127 28 66 12 15 19 14 65 7 197 17 42 28 18 11 6 51 35 118 10 63 7 36 16 169 7 32 20 106 8 38 17 20 12 126 12 55 39 99 15 442 25"/>
<circle r="390" stroke-dasharray="11 17 32 12 17 5 7 42 10 7 10 21 10 6 49 7 19 11 8 18 47 18 19 12 78 35 32 208 10 36 7 28 30 19 6 43 103 5 68 40 20 10 10 44 29 7 18 14 10 17 459 14 36 24 501 7 14 14 39 0"/>
<circle r="393.5" stroke-dasharray="166 16 20 17 21 31 29 36 18 8 29 18 38 25 17 6 7 6 27 290 9 29 20 14 16 60 30 5 169 51 30 17 498 19 49 19 17 17 477 17 80 7 1 0"/>
<circle r="397" stroke-dasharray="0 7 28 8 50 20 41 13 24 17 12 44 41 15 10 6 19 22 40 6 24 16 44 337 24 14 31 65 12 25 18 37 41 9 27 22 15 11 6 13 9 23 13 9 41 11 8 17 492 19 516 17 14 27 23 11 20 8"/>
<circle r="400.5" stroke-dasharray="64 10 19 15 19 19 48 18 6 18 13 56 65 16 75 9 16 330 11 45 40 9 6 65 15 34 51 7 10 20 10 9 29 13 28 7 10 75 16 15 7 6 15 15 456 47 624 6"/>
<circle r="404" stroke-dasharray="0 50 16 28 7 34 219 20 20 12 10 6 6 23 44 22 7 345 20 17 7 13 17 45 18 30 94 14 8 71 20 11 29 31 17 74 445 20 33 21 372 20 121 6 13 16 50 18"/>
<circle r="407.5" stroke-dasharray="7 19 40 16 40 15 33 10 12 49 5 12 14 10 12 11 11 74 12 10 9 8 17 395 16 75 14 49 20 36 29 22 15 79 17 86 11 50 18 15 47 14 439 14 25 18 35 8 396 11 37 7 79 15 21 0"/>
<circle r="411" stroke-dasharray="0 38 18 9 34 6 28 21 28 17 53 14 43 121 8 58 5 424 8 18 10 44 6 28 14 19 20 40 10 55 18 31 15 24 13 80 26 8 120 8 341 12 14 13 23 22 8 14 302 19 7 17 33 14 89 5 52 59"/>
<circle r="414.5" stroke-dasharray="0 12 13 17 15 71 20 9 6 26 9 28 25 14 16 14 84 34 46 483 12 116 24 17 10 60 27 12 15 51 20 41 9 14 25 14 8 31 19 13 21 15 22 18 292 20 39 44 18 39 15 17 287 40 110 62 14 40 10 0"/>
<circle r="418" stroke-dasharray="28 34 14 35 17 6 17 5 12 61 7 9 11 22 49 10 16 36 6 46 18 468 13 99 26 19 9 74 17 18 20 61 12 93 36 31 92 16 102 17 169 12 44 113 23 11 267 38 11 16 12 8 90 7 10 23 5 29 13 46"/>
<circle r="421.5" stroke-dasharray="11 21 16 39 10 13 15 35 14 93 17 33 44 33 14 633 11 69 16 117 8 191 6 16 50 54 288 5 48 114 61 16 35 8 52 8 53 10 41 15 5 6 15 10 93 14 78 45 10 9 19 9"/>
<circle r="425" stroke-dasharray="0 27 19 39 23 6 17 46 20 48 36 67 11 16 5 33 7 24 13 42 9 536 17 68 7 83 15 222 7 30 11 11 12 65 11 6 23 19 22 24 31 14 36 12 81 31 51 112 8 10 21 11 117 19 45 18 27 9 6 11 23 10 21 15 12 40 29 6 11 19 13 56 15 35"/>
<circle r="428.5" stroke-dasharray="33 59 31 23 11 9 24 194 5 17 19 737 18 330 30 91 7 66 18 24 30 12 93 14 14 17 39 16 14 79 11 13 39 19 16 70 8 18 53 12 6 18 49 9 16 27 5 52 19 27 8 7 15 43 8 32 16 0"/>
<circle r="432" stroke-dasharray="0 5 18 27 5 150 11 20 33 30 17 17 10 44 15 24 21 1005 11 57 15 20 6 34 6 25 15 25 8 59 6 9 25 41 57 6 13 10 43 198 36 18 15 15 6 40 59 14 18 38 6 18 11 16 86 41 27 14 10 11 9 66"/>
<circle r="435.5" stroke-dasharray="0 65 18 26 15 90 11 201 14 1070 9 30 9 131 13 10 29 18 28 12 7 18 58 30 17 16 8 147 16 25 13 15 12 24 17 15 7 29 12 11 59 16 13 19 15 67 17 102 16 19 32 64 6 0"/>
<circle r="439" stroke-dasharray="0 102 11 44 6 32 12 73 12 58 13 1342 14 37 9 75 8 15 15 29 17 293 6 50 36 49 20 57 11 24 8 18 8 26 50 178"/>
<circle r="442.5" stroke-dasharray="0 80 17 68 6 126 6 29 18 57 13 1399 14 32 17 457 7 40 10 71 14 22 19 142 13 5 14 85"/>
</g>
</g>
<g filter="url(#lev)">
<rect x="-60" y="-60" width="1058" height="1058" fill="#000"/>
<path d="M472,315 474,300 475,280 476,262 477,245 480,232 498,225 525,221 547,225 570,232 592,247 615,251 633,266 648,281 656,304 667,322 682,345 690,367 701,382 703,396 705,412 708,428 712,442 720,469 716,487 693,498 682,521 675,547 673,562 671,577 663,600 667,622 656,645 637,652 618,656 600,667 577,675 555,686 540,689 525,690 498,686 476,690 463,683 450,675 427,667 412,652 390,645 367,633 349,618 341,600 352,577 366,562 375,551 352,562 330,573 307,562 292,547 274,536 255,517 247,495 244,469 247,442 246,427 244,412 247,386 244,364 259,352 274,334 281,311 307,307 330,300 349,292 367,274 382,259 394,244 412,225 431,221 450,229 461,240 462,252 463,269 463,287 464,304 465,315Z" fill="#454545"/>
<path d="M472,326 479,315 487,300 496,286 506,274 525,262 547,277 562,292 581,311 607,319 630,330 640,340 648,352 656,375 660,389 663,405 666,420 667,435 668,450 667,465 663,487 656,510 650,523 645,536 637,562 630,585 615,600 600,618 573,626 547,630 525,633 498,630 472,622 450,618 427,611 405,600 382,585 375,562 382,547 360,540 337,525 315,517 292,506 281,487 277,461 274,435 262,412 255,390 262,371 281,364 300,349 322,337 345,330 367,326 390,315 412,307 435,300 457,300 465,322Z" fill="#707070"/>
<path d="M461,319 476,326 495,337 510,352 517,371 540,382 562,390 585,405 607,412 618,435 624,448 630,461 641,476 637,498 630,525 622,547 607,566 588,581 570,592 547,600 525,607 502,611 480,603 457,592 435,581 412,566 390,555 382,543 397,528 412,517 390,517 367,510 345,502 330,487 337,476 360,472 382,469 405,457 412,442 394,446 371,446 352,435 337,412 341,390 360,386 382,390 401,397 412,412 427,427 442,420 457,405 469,382 465,360 457,337Z" fill="#8f8f8f"/>
<path d="M435,450 448,440 465,435 480,438 495,446 506,457 517,469 528,478 540,487 552,498 562,510 570,525 573,540 558,562 543,566 525,566 509,562 495,555 481,544 469,532 457,519 446,506 437,493 431,480 430,464Z" fill="#aeaeae"/>
<path d="M532,412 558,409 572,416 585,427 594,442 600,457 592,480 578,479 562,472 550,461 540,446 533,428Z" fill="#a7a7a7"/>
<path d="M510,515 525,521 543,536 562,553 557,560 540,547 521,532 508,523Z" fill="#cacaca"/>
<path d="M457,469 472,472 487,491 480,497 465,483Z" fill="#c6c6c6"/>
<path d="M350,425 371,429 377,446 360,452 347,440Z" fill="#bababa"/>
<path d="M463,337 474,343 480,360 470,360 465,349Z" fill="#323232"/>
<path d="M570,427 577,429 579,450 572,450Z" fill="#565656"/>
<path d="M525,472 530,472 532,498 527,498Z" fill="#565656"/>
<path d="M506,382 525,394 532,409 521,405 506,392Z" fill="#565656"/>
<path d="M435,566 444,572 458,581 472,588 487,592 503,593 517,592 539,586 555,581 553,587 538,594 517,600 503,600 487,599 472,596 457,589 441,579 431,572Z" fill="#5a5a5a"/>
<path d="M412,465 435,472 443,484 446,498 439,512 427,521 409,510 405,487Z" fill="#838383"/>
<path d="M439,497 379,547 371,557 379,559 442,500Z" fill="#323232"/>
<ellipse cx="430" cy="506" rx="4" ry="9" transform="rotate(155 430 506)" fill="#525252"/>
<ellipse cx="560" cy="458" rx="5" ry="11" transform="rotate(343 560 458)" fill="#5f5f5f"/>
<ellipse cx="399" cy="486" rx="3" ry="10" transform="rotate(175 399 486)" fill="#454545"/>
<ellipse cx="542" cy="451" rx="3" ry="11" transform="rotate(332 542 451)" fill="#5f5f5f"/>
<ellipse cx="459" cy="514" rx="6" ry="10" transform="rotate(127 459 514)" fill="#151515"/>
<ellipse cx="399" cy="490" rx="5" ry="9" transform="rotate(172 399 490)" fill="#5f5f5f"/>
<path d="M572.4,557.1 A108.7,108.7 0 0 1 451.9,589.3" fill="none" stroke="#454545" stroke-width="2.62295" stroke-dasharray="12 13 4 7 8 7 8 6"/>
<path d="M521.1,399.2 A93.7,93.7 0 0 1 577.1,455.2" fill="none" stroke="#4e4e4e" stroke-width="2.62295" stroke-dasharray="13 5 3 3 4 3 4 11"/>
</g>
<g filter="url(#rag)"><ellipse cx="488" cy="421" rx="2.0" ry="7.2" transform="rotate(271 488 421)" fill="#fff"/><ellipse cx="451" cy="501" rx="1.7" ry="4.6" transform="rotate(148 451 501)" fill="#fff"/><ellipse cx="519" cy="510" rx="2.3" ry="6.3" transform="rotate(43 519 510)" fill="#0060c0"/><ellipse cx="531" cy="405" rx="1.6" ry="6.2" transform="rotate(301 531 405)" fill="#0ff"/><ellipse cx="530" cy="426" rx="1.9" ry="7.2" transform="rotate(308 530 426)" fill="#0ff"/><ellipse cx="520" cy="521" rx="1.7" ry="3.0" transform="rotate(50 520 521)" fill="#0060c0"/><ellipse cx="586" cy="504" rx="1.9" ry="3.9" transform="rotate(13 586 504)" fill="#0ff"/><ellipse cx="455" cy="567" rx="3.1" ry="6.0" transform="rotate(109 455 567)" fill="#0ff"/><ellipse cx="498" cy="570" rx="2.4" ry="7.9" transform="rotate(82 498 570)" fill="#0088ff"/><ellipse cx="407" cy="430" rx="3.2" ry="4.6" transform="rotate(211 407 430)" fill="#0060c0"/></g>
<path d="M533.1,404.5 A93.7,93.7 0 0 1 555.3,421.0" fill="none" stroke="#fff" stroke-width="1.49883" stroke-dasharray="9 12 12 11 6 7 7 3" filter="url(#rag)"/>
<path d="M543.4,581.3 A108.7,108.7 0 0 1 508.0,594.3" fill="none" stroke="#fff" stroke-width="1.12412" stroke-dasharray="12 11 10 6 5 14 10 11" filter="url(#rag)"/>
</g>
<use href="#bing"/>
</svg>
<svg x="16" y="956" width="938" height="938" viewBox="0 0 938 938" overflow="hidden">
<use href="#base"/>
<circle cx="466" cy="465" r="445" fill="#fff" fill-opacity="0.5"/>
<g opacity="0.72">
<g fill="#0ff" filter="url(#rag)">
<path d="M841,466 842,479 839,492 840,505 837,518 834,530 832,543 828,555 823,567 821,580 817,592 812,604 808,617 803,628 795,639 789,650 782,661 777,673 770,684 762,694 754,704 746,715 737,724 728,734 718,741 709,751 698,758 688,765 676,771 664,777 654,784 642,790 629,792 616,793 601,791 588,790 576,791 563,789 551,792 540,795 528,797 516,796 505,797 493,796 482,797 470,798 458,798 447,799 435,800 423,804 411,803 398,804 386,804 374,801 362,798 349,799 336,798 322,799 309,797 296,794 283,790 273,782 262,775 249,770 238,763 229,754 219,745 216,730 220,707 213,697 189,702 168,702 158,693 149,683 137,674 127,664 122,651 116,639 112,625 107,613 105,599 103,585 101,572 100,558 100,545 99,531 98,518 99,505 97,492 98,479 99,466 99,453 98,440 95,427 96,413 94,400 91,386 90,371 91,357 90,343 92,328 95,315 99,301 102,287 106,272 114,260 119,247 126,234 134,222 143,211 153,200 160,187 169,175 177,162 186,151 196,139 207,130 218,119 230,110 243,102 255,93 269,88 282,80 296,76 310,71 326,70 340,67 354,61 369,62 383,58 398,55 412,56 427,60 442,68 456,77 470,80 484,75 498,70 512,63 527,57 542,57 557,58 571,62 585,64 600,66 613,72 628,75 641,83 655,86 669,93 682,99 693,110 706,117 717,125 729,135 739,145 749,156 760,165 769,177 778,189 787,200 794,213 801,226 810,237 816,250 825,261 831,274 835,288 839,302 842,316 844,330 849,343 846,358 849,372 845,386 845,400 844,413 843,427 845,440 841,453Z"/>
<g transform="translate(470,466)" fill="none" stroke="#0ff" stroke-width="4.1">
<circle r="323" stroke-dasharray="70 42 234 20 421 11 1128 5 99 0"/>
<circle r="326.5" stroke-dasharray="17 11 281 14 80 11 76 14 1158 7 167 13 203 0"/>
<circle r="330" stroke-dasharray="337 18 101 28 41 19 418 25 167 6 280 6 264 7 94 6 183 20 55 0"/>
<circle r="333.5" stroke-dasharray="141 14 387 19 65 10 236 8 517 19 241 13 426 0"/>
<circle r="337" stroke-dasharray="515 19 231 8 19 14 63 5 234 17 471 20 419 16 67 0"/>
<circle r="340.5" stroke-dasharray="498 19 27 19 595 19 246 7 19 14 115 9 552 0"/>
<circle r="344" stroke-dasharray="521 10 249 5 123 18 799 11 346 8 72 0"/>
<circle r="347.5" stroke-dasharray="440 14 143 19 207 19 17 11 267 9 910 7 121 0"/>
<circle r="351" stroke-dasharray="57 14 433 33 20 32 34 25 472 5 258 15 130 16 293 14 353 0"/>
<circle r="354.5" stroke-dasharray="425 9 53 12 55 42 9 22 28 12 143 5 15 27 338 12 330 19 324 15 18 7 308 0"/>
<circle r="358" stroke-dasharray="93 10 336 14 18 11 47 35 7 34 111 20 655 11 324 16 211 18 244 7 28 0"/>
<circle r="361.5" stroke-dasharray="132 8 297 27 66 46 13 26 25 36 11 14 124 10 12 16 502 12 334 20 340 12 186 0"/>
<circle r="365" stroke-dasharray="422 26 16 34 12 27 8 28 16 22 12 19 36 33 1583 0"/>
<circle r="368.5" stroke-dasharray="168 16 177 11 64 20 15 65 14 59 36 19 215 9 342 9 140 20 918 0"/>
<circle r="372" stroke-dasharray="61 13 272 18 89 8 15 17 9 31 7 27 24 24 16 9 10 66 31 8 133 21 714 18 77 12 40 19 118 7 282 14 128 0"/>
<circle r="375.5" stroke-dasharray="88 9 85 10 228 6 74 66 11 136 13 7 19 14 122 29 13 16 488 16 22 17 523 7 340 0"/>
<circle r="379" stroke-dasharray="0 11 20 11 105 8 6 6 106 10 145 19 17 16 13 167 30 29 16 5 26 13 49 15 17 13 41 16 265 28 426 9 116 18 398 10 100 12 47 15 7 0"/>
<circle r="382.5" stroke-dasharray="52 10 136 7 70 12 111 70 23 51 6 103 8 9 19 76 26 23 41 9 33 27 20 17 948 19 113 8 330 9 18 0"/>
<circle r="386" stroke-dasharray="0 9 7 8 97 10 23 10 140 20 45 23 14 11 14 15 44 178 20 97 8 13 22 19 10 9 51 18 145 5 66 15 42 7 737 13 394 11 53 0"/>
<circle r="389.5" stroke-dasharray="12 5 37 28 177 6 42 11 76 17 45 12 29 16 13 239 28 30 81 39 18 15 133 19 9 7 20 11 6 16 36 20 407 18 770 0"/>
<circle r="393" stroke-dasharray="0 24 42 8 30 12 23 9 69 33 31 11 110 10 11 17 19 16 11 34 10 209 12 71 31 15 12 37 18 21 14 15 161 13 53 18 12 18 46 18 358 14 203 17 431 8 48 13 54 0"/>
<circle r="396.5" stroke-dasharray="6 18 47 7 12 60 19 9 33 42 28 35 17 16 46 5 12 25 25 38 6 43 13 232 11 18 14 19 11 116 50 17 19 12 35 8 35 11 12 23 14 42 8 15 12 58 6 19 417 19 44 22 519 32 26 16 17 0"/>
<circle r="400" stroke-dasharray="18 11 40 17 12 13 17 9 11 9 66 14 17 27 79 25 46 17 15 377 11 19 6 11 15 9 19 57 7 15 38 11 46 20 18 20 14 18 12 19 14 23 14 18 35 16 248 8 137 17 122 14 7 6 65 7 225 8 193 12 18 7 7 9 36 18 2 0"/>
<circle r="403.5" stroke-dasharray="9 16 6 16 13 7 14 12 43 11 30 19 21 14 56 11 33 7 48 16 46 46 6 301 7 18 40 29 38 49 9 58 25 47 31 19 33 26 20 80 21 23 349 7 166 32 28 6 275 13 8 9 195 12 32 18 11 0"/>
<circle r="407" stroke-dasharray="79 17 27 12 8 5 36 28 28 15 34 12 20 16 39 50 34 12 19 39 14 326 52 85 15 19 8 12 33 16 74 31 6 17 15 53 11 51 22 18 395 15 75 17 32 16 342 12 200 43"/>
<circle r="410.5" stroke-dasharray="0 11 50 23 5 8 39 16 42 74 39 49 37 34 20 7 15 14 10 514 11 49 15 38 16 16 12 30 46 92 6 11 19 33 16 9 16 18 63 22 43 18 301 19 21 15 139 14 348 14 10 16 15 53 5 0"/>
<circle r="414" stroke-dasharray="10 10 65 6 10 19 6 11 18 41 19 9 27 28 22 10 12 19 16 16 12 657 11 31 10 19 39 55 6 17 18 14 19 108 34 46 46 37 244 5 100 16 13 38 10 15 484 24 26 18 9 11 7 11 15 0"/>
<circle r="417.5" stroke-dasharray="0 13 20 32 10 54 9 10 13 23 19 15 17 53 27 56 13 14 14 35 16 19 17 523 30 13 27 46 25 58 20 122 18 28 11 25 55 37 5 75 301 6 10 13 19 15 20 12 12 15 50 8 252 11 39 10 20 15 52 41 14 18 8 14 24 8"/>
<circle r="421" stroke-dasharray="0 47 26 75 17 86 5 46 19 12 8 77 20 730 7 14 19 22 13 78 7 69 19 9 12 6 10 32 34 17 58 20 38 10 252 19 16 27 19 19 37 9 12 11 99 17 75 25 31 8 21 16 46 7 14 39 15 12 43 39 14 15 24 0"/>
<circle r="424.5" stroke-dasharray="0 13 38 27 60 50 16 19 17 16 26 38 41 15 35 90 16 559 14 62 9 258 47 30 54 20 27 24 8 8 40 23 114 30 33 17 12 18 17 83 20 18 16 43 49 37 33 17 76 13 7 20 21 38 7 9 6 15 17 31 19 31 16 7 8 13 54 0"/>
<circle r="428" stroke-dasharray="16 26 8 97 6 96 12 120 32 47 16 581 10 297 15 53 6 15 7 11 8 45 19 8 14 14 18 24 7 22 10 18 14 12 73 16 87 15 23 82 15 32 10 21 6 23 17 18 37 54 87 17 9 12 28 18 18 12 105 27 10 17 20 76 4 0"/>
<circle r="431.5" stroke-dasharray="0 20 10 18 17 55 26 134 11 15 20 73 7 8 16 1127 8 7 6 28 34 6 27 57 18 15 6 13 23 8 10 32 26 77 31 98 7 52 7 40 10 32 10 24 14 18 32 29 12 8 24 11 16 46 19 21 17 177"/>
<circle r="435" stroke-dasharray="0 38 10 47 26 173 13 126 20 1170 14 11 29 36 6 12 11 12 19 21 62 12 19 46 11 259 23 61 78 13 47 13 20 21 14 15 23 37 30 34 11 11 9 56 6 7"/>
<circle r="438.5" stroke-dasharray="9 283 18 66 12 1273 12 37 22 27 6 123 10 37 7 225 18 82 39 34 14 39 32 59 19 55 13 102 13 31 7 33"/>
<circle r="442" stroke-dasharray="8 103 16 51 9 93 13 1371 15 62 30 32 6 19 10 550 6 109 46 28 24 145 16 13 5 0"/>
<circle r="445.5" stroke-dasharray="0 271 20 2250 6 253"/>
</g>
</g>
<g filter="url(#lev)">
<rect x="-60" y="-60" width="1058" height="1058" fill="#000"/>
<path d="M469,236 487,225 510,221 532,225 555,229 573,236 596,251 618,255 637,270 652,285 660,307 671,326 682,349 693,371 705,390 707,404 708,420 712,435 716,450 720,472 712,491 690,502 682,525 675,551 673,566 671,581 663,603 663,630 648,648 630,656 607,663 594,669 581,675 568,681 555,686 540,689 525,690 498,686 472,690 450,675 427,671 416,662 405,652 382,645 360,633 345,618 337,600 349,577 364,562 345,566 326,573 304,558 285,547 266,532 247,517 240,495 244,469 247,442 244,428 240,412 242,397 244,382 240,364 259,349 274,330 281,311 307,307 330,300 349,292 367,274 382,259 394,244 409,225 431,221 450,232Z" fill="#454545"/>
<path d="M469,322 478,314 487,300 497,286 506,274 525,262 547,277 562,296 581,315 607,322 630,337 645,356 652,379 660,405 662,420 663,435 664,450 663,465 660,487 652,510 646,523 641,536 633,562 626,585 611,600 596,615 570,622 543,626 525,630 498,630 472,622 450,618 424,611 401,600 387,595 375,588 367,566 360,543 350,533 337,525 315,517 292,506 281,487 277,461 274,435 259,412 251,390 259,371 281,364 300,349 322,337 345,330 367,326 390,315 412,307 435,300 454,304Z" fill="#707070"/>
<path d="M330,390 352,386 375,390 397,397 409,412 405,435 390,446 367,450 349,439 337,420 331,404Z" fill="#8f8f8f"/>
<path d="M450,322 469,326 487,337 506,349 521,364 528,379 510,375 487,360 469,345 454,334Z" fill="#8f8f8f"/>
<path d="M412,442 435,450 457,461 480,476 502,487 525,480 532,457 530,442 528,427 540,405 558,390 581,397 603,412 615,435 620,448 626,461 637,480 633,502 626,525 618,547 600,566 581,581 562,592 540,600 517,607 495,611 472,600 450,588 427,577 405,562 382,547 375,525 352,510 334,495 330,480 349,472 375,476 394,469 405,454Z" fill="#8f8f8f"/>
<path d="M480,506 506,498 519,502 532,510 545,518 555,528 562,551 540,562 525,562 510,558 497,551 487,540 480,522Z" fill="#acacac"/>
<path d="M547,412 560,407 577,409 589,416 600,427 609,442 615,457 607,480 593,479 577,472 565,461 555,446 548,428Z" fill="#a5a5a5"/>
<path d="M510,521 528,527 547,540 562,553 557,559 540,549 521,534Z" fill="#cacaca"/>
<path d="M345,427 371,429 375,446 360,452 345,440Z" fill="#bababa"/>
<path d="M455,339 467,343 472,360 463,360 457,349Z" fill="#282828"/>
<path d="M412,461 439,469 452,477 461,487 450,510 424,506 405,487Z" fill="#7c7c7c"/>
<path d="M457,517 480,525 487,547 469,558 450,543Z" fill="#7c7c7c"/>
<path d="M566,427 575,429 577,446 568,446Z" fill="#5f5f5f"/>
<path d="M603,517 613,519 613,536 604,536Z" fill="#5f5f5f"/>
<ellipse cx="572" cy="472" rx="6" ry="6" transform="rotate(354 572 472)" fill="#454545"/>
<ellipse cx="445" cy="454" rx="4" ry="10" transform="rotate(212 445 454)" fill="#5f5f5f"/>
<ellipse cx="522" cy="531" rx="6" ry="8" transform="rotate(55 522 531)" fill="#323232"/>
<ellipse cx="515" cy="397" rx="5" ry="11" transform="rotate(289 515 397)" fill="#242424"/>
<ellipse cx="550" cy="444" rx="4" ry="9" transform="rotate(330 550 444)" fill="#323232"/>
<path d="M559.0,570.5 A108.7,108.7 0 0 1 451.9,589.3" fill="none" stroke="#4e4e4e" stroke-width="2.24824" stroke-dasharray="14 8 13 6 3 11 12 10"/>
</g>
<g filter="url(#rag)"><ellipse cx="521" cy="510" rx="1.6" ry="3.2" transform="rotate(41 521 510)" fill="#0ff"/><ellipse cx="526" cy="488" rx="1.6" ry="3.6" transform="rotate(12 526 488)" fill="#0088ff"/><ellipse cx="540" cy="478" rx="2.2" ry="5.4" transform="rotate(358 540 478)" fill="#0ff"/><ellipse cx="509" cy="376" rx="1.6" ry="4.5" transform="rotate(282 509 376)" fill="#0088ff"/><ellipse cx="443" cy="416" rx="2.7" ry="7.1" transform="rotate(235 443 416)" fill="#0ff"/></g>
</g>
<use href="#bing"/>
</svg>
<svg x="1003" y="956" width="938" height="938" viewBox="0 0 938 938" overflow="hidden">
<use href="#base"/>
<circle cx="466" cy="465" r="445" fill="#fff" fill-opacity="0.5"/>
<g opacity="0.72">
<g fill="#0ff" filter="url(#rag)">
<path d="M784,466 782,477 782,488 781,499 778,509 775,520 775,531 770,541 768,552 767,562 763,573 756,582 752,591 748,601 745,612 737,620 732,630 726,639 720,647 715,657 707,665 701,674 694,683 687,690 678,697 671,705 662,712 654,719 644,724 635,730 626,736 617,743 607,747 597,751 587,755 577,759 566,762 557,769 546,771 535,774 524,775 514,777 503,777 492,779 481,778 470,780 459,779 448,778 437,782 426,778 414,781 403,780 392,777 381,777 369,778 357,776 347,771 335,769 324,764 315,758 304,754 294,748 284,741 274,736 265,728 255,722 248,713 238,706 231,697 220,691 212,683 205,673 198,664 190,655 185,644 179,634 172,624 167,614 163,602 159,592 156,580 153,569 150,558 149,546 146,535 144,523 144,512 142,500 144,489 141,477 144,466 144,455 142,443 146,432 145,420 146,409 147,397 150,386 154,375 157,364 159,353 165,343 170,332 171,320 177,310 185,301 190,291 196,281 201,271 210,263 216,253 224,244 233,237 242,229 249,221 258,214 267,206 277,200 285,192 296,187 306,182 315,175 325,169 336,165 347,161 357,156 368,153 380,153 391,149 403,149 414,146 425,145 436,143 447,141 459,140 470,142 481,143 493,139 504,141 515,143 526,146 538,147 550,146 561,150 572,151 583,155 594,158 605,162 615,169 625,174 636,179 646,184 656,190 665,197 674,205 683,213 690,221 700,228 707,237 714,246 722,254 730,263 736,272 740,284 747,293 754,302 759,312 763,323 769,333 771,344 775,355 774,367 777,378 777,389 781,400 781,411 783,422 782,433 781,444 781,455Z"/>
<g transform="translate(470,466)" fill="none" stroke="#0ff" stroke-width="4.1">
<circle r="303" stroke-dasharray="973 8 923 0"/>
<circle r="306.5" stroke-dasharray="803 18 814 12 9 5 264 0"/>
<circle r="310" stroke-dasharray="870 16 1062 0"/>
<circle r="313.5" stroke-dasharray="254 17 718 14 450 6 61 15 158 16 16 8 169 12 56 0"/>
<circle r="317" stroke-dasharray="0 9 27 6 141 9 121 10 30 19 122 24 332 5 466 20 582 6 62 0"/>
<circle r="320.5" stroke-dasharray="148 13 75 19 68 15 38 17 81 16 7 14 1503 0"/>
<circle r="324" stroke-dasharray="83 16 44 9 58 13 6 16 15 15 31 19 50 15 20 10 25 8 8 9 15 55 7 10 67 9 825 14 93 19 403 16 35 0"/>
<circle r="327.5" stroke-dasharray="0 18 46 14 21 16 16 26 47 37 31 12 37 7 50 24 15 17 17 6 57 17 63 19 156 10 103 10 507 8 103 7 32 9 154 12 18 10 108 13 154 26 5 0"/>
<circle r="331" stroke-dasharray="32 37 57 16 43 29 34 38 48 20 6 19 27 14 23 13 18 15 19 26 23 25 154 9 8 19 232 15 45 17 96 8 426 11 11 14 58 12 279 17 70 0"/>
<circle r="334.5" stroke-dasharray="60 6 42 18 31 28 19 5 43 32 35 19 5 13 51 7 12 14 20 75 7 9 22 16 17 14 107 12 220 17 119 19 222 13 78 15 134 10 385 19 40 36 22 13"/>
<circle r="338" stroke-dasharray="17 22 14 20 28 23 23 17 23 19 41 29 15 12 28 89 16 18 19 23 16 19 11 10 24 56 8 18 18 15 76 12 13 15 153 28 71 5 42 6 37 25 173 9 61 33 20 18 137 20 201 17 69 13 37 18 71 15 37 0"/>
<circle r="341.5" stroke-dasharray="0 21 48 6 21 13 32 20 44 30 70 27 42 14 7 13 29 13 18 48 34 13 51 6 16 13 86 12 76 26 42 30 33 31 146 27 158 5 44 18 36 14 27 12 176 35 143 8 137 9 25 8 6 11 12 32 17 29 23 0"/>
<circle r="345" stroke-dasharray="6 17 17 15 43 12 9 7 27 13 5 21 19 34 37 23 40 19 13 29 41 8 71 76 12 23 6 16 20 11 27 59 30 20 31 28 13 6 29 14 27 34 34 10 9 7 76 20 7 8 5 10 27 12 133 30 127 18 15 13 12 10 8 13 8 18 71 42 58 12 79 29 28 35 26 17 51 25 8 8 39 0"/>
<circle r="348.5" stroke-dasharray="12 17 6 17 33 21 16 16 41 21 7 9 34 23 40 14 79 18 40 32 7 18 8 34 19 41 18 14 48 27 40 15 29 19 65 18 14 24 54 9 56 12 12 19 18 23 30 30 12 13 71 5 17 26 8 19 102 12 144 14 25 30 11 26 76 18 151 14 68 19 29 12 14 31 11 0"/>
<circle r="352" stroke-dasharray="12 11 33 25 23 6 14 23 34 6 8 13 28 18 23 27 40 8 19 44 24 20 12 38 6 131 9 25 28 9 7 17 34 19 20 27 17 19 13 21 29 7 49 35 14 21 17 15 20 22 20 6 36 12 37 48 15 18 14 14 5 8 18 15 20 21 19 23 14 9 34 49 43 7 11 8 88 7 25 22 21 19 19 10 12 18 15 6 18 14 47 18 29 19 81 38 22 1"/>
<circle r="355.5" stroke-dasharray="0 25 7 20 42 19 29 29 36 44 31 162 9 127 16 56 32 25 16 16 9 21 14 19 15 16 122 14 79 57 28 49 19 13 28 34 86 12 6 24 39 12 93 33 58 5 10 16 133 14 43 13 29 8 41 12 26 9 34 17 17 23 18 35 10 26 17 34"/>
<circle r="359" stroke-dasharray="12 14 59 40 47 16 20 35 6 80 17 13 30 65 12 153 12 80 47 88 10 32 19 13 10 25 6 7 5 13 20 18 19 34 16 16 21 18 35 12 22 18 25 12 16 31 32 36 24 25 27 5 40 9 6 9 45 18 48 11 20 9 66 25 7 18 55 15 16 44 47 25 48 5 37 25 13 48 11 13 19 37"/>
<circle r="362.5" stroke-dasharray="10 14 40 18 17 32 31 80 8 75 18 25 9 32 8 260 53 13 34 31 27 6 39 13 20 26 38 13 15 8 63 21 60 23 26 17 7 26 59 23 15 8 63 61 10 12 7 9 28 25 37 60 10 18 11 9 37 15 54 12 8 38 13 7 13 17 25 10 21 34 46 12 18 8 20 26 58 7 10 26 18 4"/>
<circle r="366" stroke-dasharray="0 88 6 59 23 45 15 25 11 41 17 57 20 39 9 177 8 64 17 57 17 34 12 25 7 11 13 20 10 6 13 9 13 16 39 82 14 55 13 5 19 18 52 11 15 11 27 16 15 14 27 15 15 5 11 19 25 6 53 16 35 14 72 46 29 12 15 16 9 10 15 19 12 12 28 20 41 11 16 25 17 17 6 45 55 13 18 48 5 16 24 0"/>
<circle r="369.5" stroke-dasharray="17 14 14 112 16 57 16 22 6 7 20 26 6 100 14 253 14 218 13 18 8 18 35 61 10 49 34 78 19 39 14 40 12 5 10 9 10 17 21 23 17 9 8 19 6 64 19 39 6 7 19 23 17 9 50 10 31 17 8 15 10 9 6 12 9 6 23 13 10 13 53 28 20 14 20 48 8 14 6 14 22 8 17 16 27 35 0 0"/>
<circle r="373" stroke-dasharray="17 33 34 37 11 136 14 11 15 17 22 87 14 9 5 361 11 39 23 56 10 26 16 61 12 42 17 23 21 23 84 6 13 30 10 10 35 25 16 14 15 19 15 31 52 16 56 99 24 15 60 12 7 48 30 24 17 17 10 19 19 18 7 28 50 17 11 17 41 10 10 58 7 11 12 0"/>
<circle r="376.5" stroke-dasharray="32 16 14 111 38 7 16 19 34 28 8 39 15 70 12 386 7 7 20 59 14 88 9 39 9 46 26 22 6 30 28 22 16 47 73 17 56 13 10 11 17 6 12 13 37 30 28 42 11 92 8 5 14 60 57 32 16 10 32 36 18 17 42 32 15 29 55 72 7 2"/>
<circle r="380" stroke-dasharray="18 71 15 99 15 27 14 19 29 16 32 13 20 415 7 108 14 25 11 31 15 13 19 60 44 8 11 31 10 20 18 28 5 16 19 18 14 37 8 9 14 6 11 16 73 8 6 18 12 48 9 55 13 48 9 14 14 20 14 13 6 16 32 28 15 42 73 13 20 28 11 35 12 52 13 21 52 15 6 17 14 8 11 19 12 0"/>
<circle r="383.5" stroke-dasharray="0 416 16 423 10 74 13 20 16 207 19 73 21 19 7 22 23 11 17 33 10 43 18 23 11 57 7 17 16 15 46 70 21 14 15 48 5 7 10 45 10 14 7 33 6 19 17 43 49 13 7 16 50 17 10 53 32 8 17 51 3 0"/>
<circle r="387" stroke-dasharray="0 79 6 29 12 805 19 81 10 25 30 129 16 126 21 85 6 56 11 25 24 28 14 12 7 73 12 30 81 11 47 42 15 40 7 62 64 30 5 17 6 20 30 30 35 25 10 52 12 19"/>
<circle r="390.5" stroke-dasharray="0 41 17 200 19 102 32 35 20 548 19 215 17 52 16 107 63 75 23 35 46 6 9 35 8 19 19 16 20 28 19 21 12 31 30 7 50 69 18 21 9 43 35 27 7 142 8 6 11 10 16 21"/>
<circle r="394" stroke-dasharray="17 45 8 34 19 153 17 825 8 152 19 7 23 14 17 12 15 16 16 23 13 21 38 25 7 7 10 26 14 9 6 44 6 52 28 18 26 71 8 26 13 14 36 25 8 29 12 20 29 40 14 19 25 18 12 16 12 26 38 7 10 106 5 12 6 27"/>
<circle r="397.5" stroke-dasharray="0 15 14 28 27 58 20 1002 12 89 7 32 6 56 17 13 6 42 7 24 15 66 7 36 6 108 7 35 14 64 11 8 54 41 28 51 5 60 21 19 8 32 11 35 19 18 5 7 19 33 11 87 5 12 22 30 14 0"/>
<circle r="401" stroke-dasharray="0 38 17 117 15 72 17 1093 13 201 9 29 32 39 14 10 5 14 26 95 15 46 19 8 16 33 18 18 17 53 8 26 6 34 13 170 20 86 11 45"/>
<circle r="404.5" stroke-dasharray="0 183 26 145 12 861 9 102 14 89 10 181 14 34 10 13 18 45 13 26 20 255 16 57 23 14 12 26 17 31 11 43 20 50 32 113"/>
<circle r="408" stroke-dasharray="0 37 15 163 19 1147 14 7 13 286 15 82 8 283 15 89 19 27 6 71 13 85 11 55 11 30 8 35"/>
<circle r="411.5" stroke-dasharray="0 1415 6 248 16 14 7 14 17 21 18 87 13 27 41 32 19 155 17 19 15 35 19 34 12 38 13 32 26 56 20 98 5 0"/>
<circle r="415" stroke-dasharray="0 78 14 1603 25 50 42 242 10 153 45 16 8 67 12 229 12 3"/>
<circle r="418.5" stroke-dasharray="0 1619 12 59 7 9 9 48 12 94 14 102 18 75 14 239 5 14 12 100 19 149"/>
<circle r="422" stroke-dasharray="0 1584 8 52 24 21 19 758 8 172 6 0"/>
<circle r="425.5" stroke-dasharray="0 1732 13 20 26 408 5 73 16 33 7 342"/>
<circle r="429" stroke-dasharray="0 1736 17 347 10 138 12 436"/>
<circle r="432.5" stroke-dasharray="0 1763 17 172 6 28 18 370 15 122 12 196"/>
<circle r="436" stroke-dasharray="0 2238 12 283 6 200"/>
</g>
</g>
<g filter="url(#lev)">
<rect x="-60" y="-60" width="1058" height="1058" fill="#000"/>
<path d="M476,311 478,296 480,277 487,255 510,259 528,270 547,277 566,281 581,296 596,307 611,322 626,334 637,349 652,364 667,379 678,375 671,394 667,420 675,442 678,465 671,487 667,510 652,528 641,547 633,566 622,585 615,607 600,626 581,633 562,637 540,641 517,641 495,637 472,633 450,630 427,626 405,615 382,603 367,588 356,573 364,558 349,562 334,551 319,540 300,525 281,510 274,487 277,465 270,442 281,424 292,405 300,382 311,364 330,345 349,334 371,322 394,315 412,304 424,289 446,281 461,289 465,311Z" fill="#454545"/>
<path d="M450,315 465,326 480,337 502,345 525,360 547,367 570,382 592,390 611,409 622,431 630,457 637,480 633,502 622,525 611,547 600,566 581,581 562,592 540,596 517,600 495,603 472,600 450,596 427,588 405,577 390,562 375,547 360,532 341,517 326,502 319,480 322,457 326,435 334,412 337,390 352,375 375,367 397,364 420,352 435,334Z" fill="#707070"/>
<path d="M461,326 480,334 498,345 517,360 528,375 525,394 540,405 562,409 581,424 596,442 600,465 607,483 603,506 596,525 588,543 577,562 558,573 540,581 517,588 495,585 472,581 450,573 431,558 412,543 397,528 382,517 360,506 341,491 349,476 367,476 390,483 412,487 431,480 442,465 427,450 405,446 382,439 364,420 352,397 360,390 382,397 405,409 420,427 439,431 457,427 476,420 487,401 495,382 487,364 472,349 461,337Z" fill="#8f8f8f"/>
<path d="M450,476 462,470 480,469 495,472 510,480 522,488 532,498 542,511 547,525 540,547 526,550 510,547 494,541 480,532 467,520 457,506 450,490Z" fill="#acacac"/>
<path d="M495,518 513,518 532,528 548,540 540,544 521,539 502,529Z" fill="#cccccc"/>
<path d="M358,425 379,429 382,446 367,450 356,439Z" fill="#bababa"/>
<path d="M469,326 473,326 473,336 473,351 473,369 474,388 473,407 473,425 473,439 473,450 469,450 469,439 469,425 469,407 468,388 468,369 468,351 468,336Z" fill="#5a5a5a"/>
<path d="M463,349 471,350 473,364 465,362Z" fill="#2d2d2d"/>
<path d="M465,382 480,394 483,420 469,424 461,405Z" fill="#808080"/>
<ellipse cx="566" cy="501" rx="6" ry="7" transform="rotate(15 566 501)" fill="#323232"/>
<ellipse cx="439" cy="460" rx="3" ry="10" transform="rotate(202 439 460)" fill="#454545"/>
</g>
<g filter="url(#rag)"><ellipse cx="556" cy="481" rx="2.7" ry="4.2" transform="rotate(1 556 481)" fill="#fff"/><ellipse cx="565" cy="505" rx="2.2" ry="5.7" transform="rotate(18 565 505)" fill="#0ff"/></g>
</g>
<use href="#bing"/>
</svg>
<g class="lg" stroke="#111" stroke-width="0.35" filter="url(#lgb)">
<text x="1972.5" y="309.5" textLength="207.7" lengthAdjust="spacingAndGlyphs">values in: mm</text>
<rect x="1974" y="334.5" width="51" height="25" fill="#fff" stroke="#808080" stroke-width="2"/>
<text x="2038" y="358.8" textLength="18.5" lengthAdjust="spacingAndGlyphs">0</text>
<rect x="1973" y="373.6" width="53" height="25.4" fill="#00ffff" stroke="none"/>
<text x="2038" y="397.9" textLength="135.2" lengthAdjust="spacingAndGlyphs">0.01 - 20</text>
<rect x="1973" y="412.7" width="53" height="25.4" fill="#0088ff" stroke="none"/>
<text x="2038" y="437" textLength="105.9" lengthAdjust="spacingAndGlyphs">20 - 40</text>
<rect x="1973" y="451.8" width="53" height="25.4" fill="#0060c0" stroke="none"/>
<text x="2038" y="476.1" textLength="105.9" lengthAdjust="spacingAndGlyphs">40 - 60</text>
<rect x="1973" y="490.9" width="53" height="25.4" fill="#00ff00" stroke="none"/>
<text x="2038" y="515.2" textLength="105.9" lengthAdjust="spacingAndGlyphs">60 - 80</text>
<rect x="1973" y="530.0" width="53" height="25.4" fill="#00cc00" stroke="none"/>
<text x="2038" y="554.3" textLength="124.8" lengthAdjust="spacingAndGlyphs">80 - 100</text>
<rect x="1973" y="569.1" width="53" height="25.4" fill="#008800" stroke="none"/>
<text x="2038" y="593.4" textLength="143" lengthAdjust="spacingAndGlyphs">100 - 120</text>
<rect x="1973" y="608.2" width="53" height="25.4" fill="#ffff00" stroke="none"/>
<text x="2038" y="632.5" textLength="143" lengthAdjust="spacingAndGlyphs">120 - 140</text>
<rect x="1973" y="647.3" width="53" height="25.4" fill="#ffc000" stroke="none"/>
<text x="2038" y="671.6" textLength="143" lengthAdjust="spacingAndGlyphs">140 - 160</text>
<rect x="1973" y="686.4" width="53" height="25.4" fill="#ff8800" stroke="none"/>
<text x="2038" y="710.7" textLength="143" lengthAdjust="spacingAndGlyphs">160 - 180</text>
<rect x="1973" y="725.5" width="53" height="25.4" fill="#ff0000" stroke="none"/>
<text x="2038" y="749.8" textLength="143" lengthAdjust="spacingAndGlyphs">180 - 200</text>
<rect x="1973" y="764.6" width="53" height="25.4" fill="#c80000" stroke="none"/>
<text x="2038" y="788.9" textLength="143" lengthAdjust="spacingAndGlyphs">200 - 220</text>
<rect x="1973" y="803.7" width="53" height="25.4" fill="#880000" stroke="none"/>
<text x="2038" y="828" textLength="143" lengthAdjust="spacingAndGlyphs">220 - 240</text>
<rect x="1973" y="842.8" width="53" height="25.4" fill="#ff00ff" stroke="none"/>
<text x="2038" y="867.1" textLength="143" lengthAdjust="spacingAndGlyphs">240 - 260</text>
<rect x="1973" y="881.9" width="53" height="25.4" fill="#aa00ff" stroke="none"/>
<text x="2038" y="906.2" textLength="143" lengthAdjust="spacingAndGlyphs">260 - 280</text>
<rect x="1973" y="921.0" width="53" height="25.4" fill="#000000" stroke="none"/>
<text x="2038" y="945.3" textLength="88.2" lengthAdjust="spacingAndGlyphs">&gt; 280</text>
<rect x="1973" y="975" width="53" height="25.4" fill="#888888" stroke="none"/>
<text x="2038" y="998.3" textLength="82.6" lengthAdjust="spacingAndGlyphs">undef</text>
<text x="1973" y="1068.7" textLength="290.6" lengthAdjust="spacingAndGlyphs">17/04/2020 06:01 -</text>
<text x="1973" y="1103.9" textLength="268.1" lengthAdjust="spacingAndGlyphs">06/07/2020 06:01</text>
<text x="1973" y="1139" textLength="84" lengthAdjust="spacingAndGlyphs">(UTC)</text>
<rect x="1969" y="1166" width="124" height="36" fill="#fdfdfd" stroke="none"/>
<text x="1972" y="1232" textLength="181.8" lengthAdjust="spacingAndGlyphs">format: HDF</text>
<text x="1972" y="1268" textLength="435.3" lengthAdjust="spacingAndGlyphs">image type: cumulated image</text>
<rect x="1969" y="1278" width="196" height="32" fill="#fdfdfd" stroke="none"/>
</g>
<g transform="translate(2260,1431)">
<defs><linearGradient id="lgd" x1="0.1" y1="1" x2="0.9" y2="0"><stop offset="0" stop-color="#0b4a5c"/><stop offset="0.55" stop-color="#0e5168"/><stop offset="1" stop-color="#1c8cb0"/></linearGradient>
<radialGradient id="glb" cx="0.5" cy="0.5" r="0.5"><stop offset="0" stop-color="#3a6cf0"/><stop offset="1" stop-color="#2cc84a"/></radialGradient></defs>
<rect x="1" y="1" width="156" height="156" rx="19" fill="#b9bcbc"/>
<rect x="4" y="4" width="150" height="150" rx="16" fill="url(#lgd)"/>
<text x="9" y="58" font-family="'Liberation Sans',sans-serif" font-style="italic" font-size="58" fill="#fff" textLength="118" lengthAdjust="spacingAndGlyphs">ScV</text>
<text x="76" y="141" font-family="'Liberation Sans',sans-serif" font-size="92" fill="#fff" stroke="#fff" stroke-width="2" textLength="68" lengthAdjust="spacingAndGlyphs">2</text>
<circle cx="40" cy="124" r="29" fill="url(#glb)"/>
<path d="M14,126 q12,-10 26,0 t26,2 l-3,14 q-24,14 -46,0 z" fill="#f03a20"/>
<path d="M13,120 q12,-8 24,0 t28,0 l0,7 q-14,8 -28,0 t-24,2 z" fill="#f4e21c"/>
<path d="M30,100 q12,-6 24,4 l-6,14 q-10,-2 -16,-10 z" fill="#36c8ea"/>
<path d="M46,118 l24,-12" stroke="#fff" stroke-width="4" stroke-linecap="round"/>
</g>
</svg>
</body></html>
